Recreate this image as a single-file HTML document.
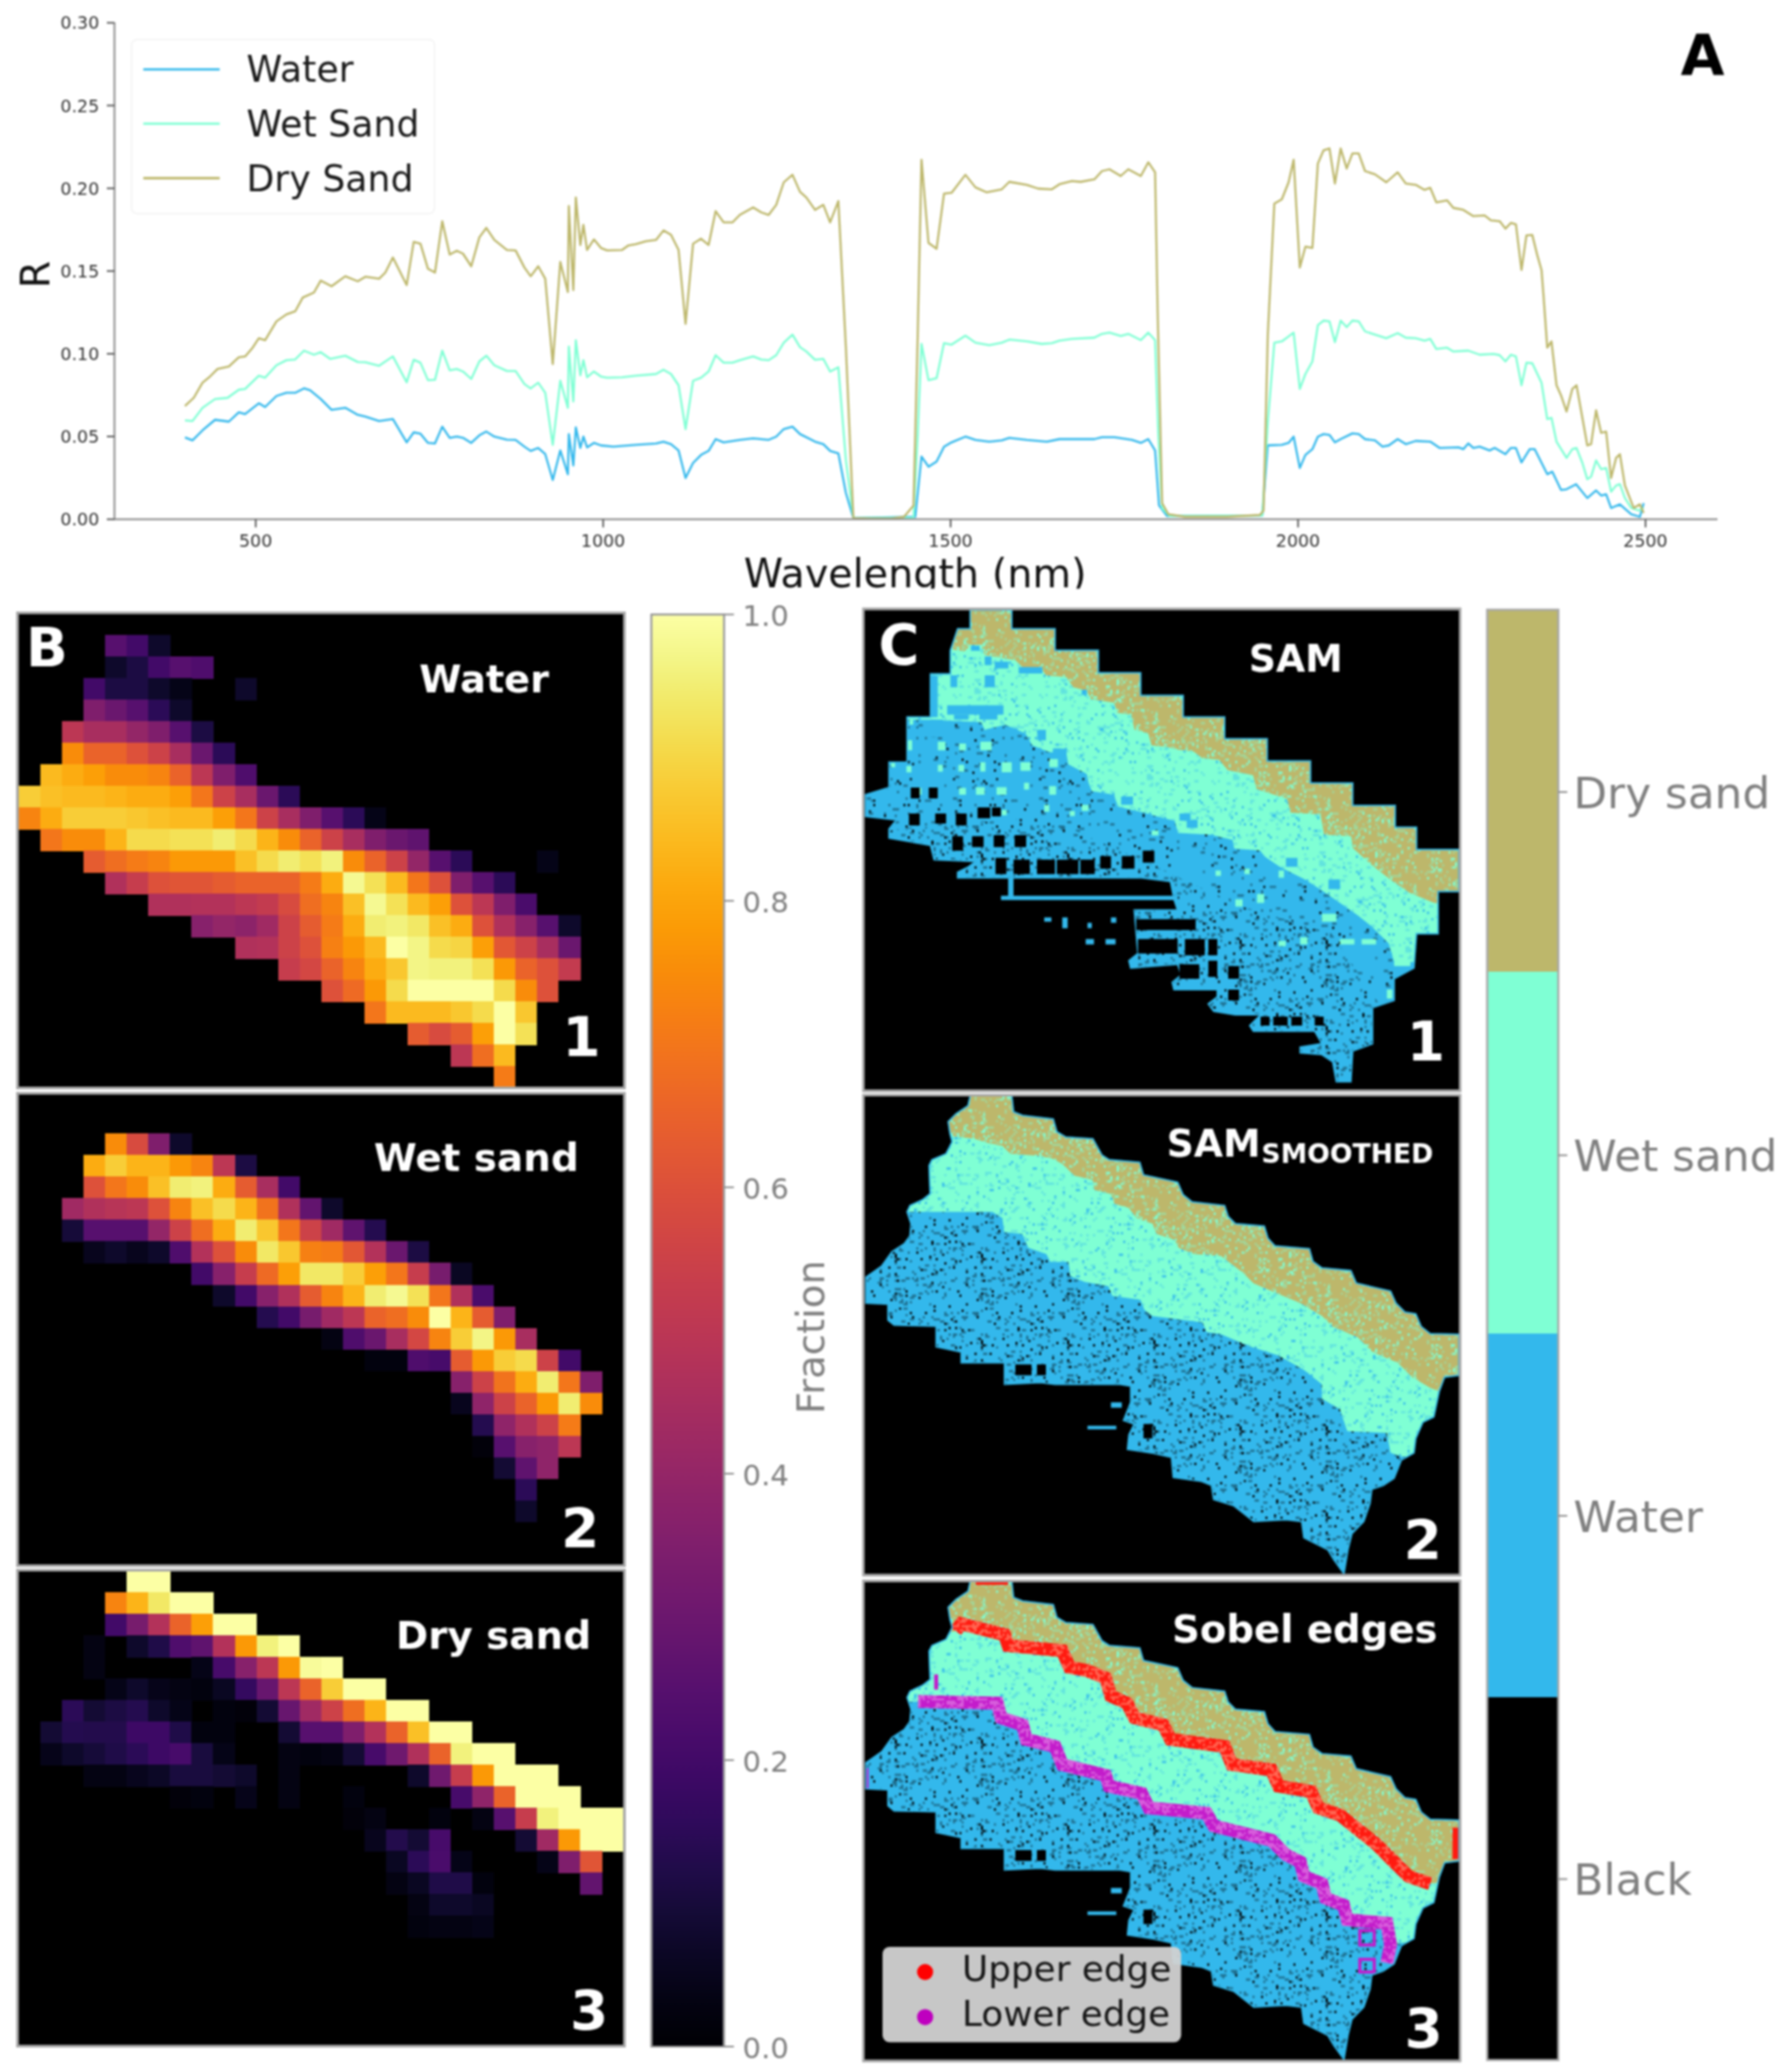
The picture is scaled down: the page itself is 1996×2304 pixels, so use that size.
<!DOCTYPE html>
<html><head><meta charset="utf-8"><title>Figure</title>
<style>html,body{margin:0;padding:0;background:#fff}svg{display:block;filter:blur(0.8px)}</style></head>
<body>
<svg width="1996" height="2304" viewBox="0 0 1996 2304" font-family='"DejaVu Sans","Liberation Sans",sans-serif'>
<defs>
<linearGradient id="inf" x1="0" y1="0" x2="0" y2="1"><stop offset="0.0000" stop-color="#fcffa4"/><stop offset="0.0312" stop-color="#f3f586"/><stop offset="0.0625" stop-color="#f2e865"/><stop offset="0.0938" stop-color="#f5d949"/><stop offset="0.1250" stop-color="#f9c932"/><stop offset="0.1562" stop-color="#fbba1f"/><stop offset="0.1875" stop-color="#fcaa0f"/><stop offset="0.2188" stop-color="#fb9b06"/><stop offset="0.2500" stop-color="#f98c0a"/><stop offset="0.2812" stop-color="#f67e14"/><stop offset="0.3125" stop-color="#f1711f"/><stop offset="0.3438" stop-color="#eb6429"/><stop offset="0.3750" stop-color="#e35933"/><stop offset="0.4062" stop-color="#da4e3c"/><stop offset="0.4375" stop-color="#d04545"/><stop offset="0.4688" stop-color="#c63d4d"/><stop offset="0.5000" stop-color="#bc3754"/><stop offset="0.5312" stop-color="#b0315b"/><stop offset="0.5625" stop-color="#a32c61"/><stop offset="0.5938" stop-color="#972766"/><stop offset="0.6250" stop-color="#8a226a"/><stop offset="0.6562" stop-color="#7d1e6d"/><stop offset="0.6875" stop-color="#71196e"/><stop offset="0.7188" stop-color="#64156e"/><stop offset="0.7500" stop-color="#57106e"/><stop offset="0.7812" stop-color="#4a0c6b"/><stop offset="0.8125" stop-color="#3d0965"/><stop offset="0.8438" stop-color="#2f0a5b"/><stop offset="0.8750" stop-color="#210c4a"/><stop offset="0.9062" stop-color="#150b37"/><stop offset="0.9375" stop-color="#0b0724"/><stop offset="0.9688" stop-color="#040312"/><stop offset="1.0000" stop-color="#000004"/></linearGradient>
<pattern id="pDry" width="96" height="96" patternUnits="userSpaceOnUse"><rect width="96" height="96" fill="#bdb76b"/><path d="M0.0 0.0h2.4v2.4h-2.4zM0.0 16.8h4.8v2.4h-4.8zM0.0 88.8h2.4v2.4h-2.4zM0.0 93.6h2.4v2.4h-2.4zM2.4 38.4h2.4v2.4h-2.4zM2.4 76.8h2.4v2.4h-2.4zM4.8 40.8h2.4v2.4h-2.4zM4.8 64.8h2.4v2.4h-2.4zM4.8 84.0h4.8v2.4h-4.8zM4.8 93.6h2.4v2.4h-2.4zM7.2 4.8h2.4v2.4h-2.4zM7.2 7.2h4.8v2.4h-4.8zM7.2 26.4h4.8v2.4h-4.8zM7.2 45.6h2.4v2.4h-2.4zM7.2 48.0h2.4v2.4h-2.4zM9.6 24.0h2.4v2.4h-2.4zM9.6 45.6h4.8v2.4h-4.8zM12.0 7.2h4.8v2.4h-4.8zM12.0 38.4h2.4v2.4h-2.4zM12.0 40.8h4.8v2.4h-4.8zM12.0 43.2h2.4v2.4h-2.4zM12.0 64.8h4.8v2.4h-4.8zM12.0 88.8h4.8v2.4h-4.8zM14.4 7.2h4.8v2.4h-4.8zM14.4 14.4h2.4v2.4h-2.4zM14.4 31.2h2.4v2.4h-2.4zM14.4 60.0h4.8v2.4h-4.8zM14.4 84.0h4.8v2.4h-4.8zM16.8 36.0h2.4v2.4h-2.4zM16.8 38.4h4.8v2.4h-4.8zM16.8 52.8h2.4v2.4h-2.4zM16.8 57.6h2.4v2.4h-2.4zM16.8 60.0h2.4v2.4h-2.4zM16.8 69.6h2.4v2.4h-2.4zM16.8 79.2h2.4v2.4h-2.4zM19.2 4.8h2.4v2.4h-2.4zM19.2 7.2h2.4v2.4h-2.4zM19.2 52.8h4.8v2.4h-4.8zM21.6 16.8h2.4v2.4h-2.4zM21.6 21.6h2.4v2.4h-2.4zM21.6 52.8h4.8v2.4h-4.8zM21.6 74.4h2.4v2.4h-2.4zM21.6 93.6h2.4v2.4h-2.4zM24.0 21.6h2.4v2.4h-2.4zM24.0 24.0h2.4v2.4h-2.4zM24.0 28.8h2.4v2.4h-2.4zM24.0 33.6h4.8v2.4h-4.8zM24.0 43.2h2.4v2.4h-2.4zM26.4 0.0h2.4v2.4h-2.4zM26.4 2.4h2.4v2.4h-2.4zM26.4 14.4h2.4v2.4h-2.4zM26.4 86.4h2.4v2.4h-2.4zM28.8 64.8h2.4v2.4h-2.4zM31.2 16.8h2.4v2.4h-2.4zM31.2 28.8h2.4v2.4h-2.4zM31.2 45.6h2.4v2.4h-2.4zM31.2 79.2h2.4v2.4h-2.4zM31.2 81.6h2.4v2.4h-2.4zM33.6 2.4h4.8v2.4h-4.8zM33.6 21.6h2.4v2.4h-2.4zM33.6 26.4h4.8v2.4h-4.8zM33.6 55.2h2.4v2.4h-2.4zM33.6 57.6h2.4v2.4h-2.4zM33.6 64.8h4.8v2.4h-4.8zM36.0 16.8h2.4v2.4h-2.4zM36.0 21.6h2.4v2.4h-2.4zM36.0 28.8h2.4v2.4h-2.4zM36.0 48.0h4.8v2.4h-4.8zM38.4 4.8h2.4v2.4h-2.4zM38.4 26.4h2.4v2.4h-2.4zM38.4 36.0h2.4v2.4h-2.4zM38.4 52.8h2.4v2.4h-2.4zM38.4 64.8h2.4v2.4h-2.4zM38.4 67.2h4.8v2.4h-4.8zM38.4 76.8h2.4v2.4h-2.4zM40.8 9.6h2.4v2.4h-2.4zM40.8 33.6h2.4v2.4h-2.4zM40.8 38.4h2.4v2.4h-2.4zM40.8 67.2h2.4v2.4h-2.4zM43.2 2.4h2.4v2.4h-2.4zM43.2 33.6h4.8v2.4h-4.8zM43.2 43.2h2.4v2.4h-2.4zM43.2 50.4h2.4v2.4h-2.4zM43.2 55.2h4.8v2.4h-4.8zM43.2 62.4h4.8v2.4h-4.8zM43.2 69.6h2.4v2.4h-2.4zM45.6 48.0h4.8v2.4h-4.8zM45.6 55.2h2.4v2.4h-2.4zM48.0 4.8h2.4v2.4h-2.4zM48.0 52.8h2.4v2.4h-2.4zM48.0 60.0h4.8v2.4h-4.8zM50.4 2.4h4.8v2.4h-4.8zM50.4 26.4h2.4v2.4h-2.4zM50.4 43.2h2.4v2.4h-2.4zM50.4 50.4h4.8v2.4h-4.8zM50.4 67.2h2.4v2.4h-2.4zM50.4 79.2h2.4v2.4h-2.4zM50.4 81.6h2.4v2.4h-2.4zM52.8 55.2h4.8v2.4h-4.8zM52.8 69.6h2.4v2.4h-2.4zM52.8 91.2h2.4v2.4h-2.4zM55.2 24.0h4.8v2.4h-4.8zM55.2 28.8h2.4v2.4h-2.4zM55.2 40.8h2.4v2.4h-2.4zM55.2 57.6h4.8v2.4h-4.8zM55.2 76.8h4.8v2.4h-4.8zM55.2 86.4h2.4v2.4h-2.4zM55.2 88.8h2.4v2.4h-2.4zM57.6 2.4h2.4v2.4h-2.4zM57.6 67.2h4.8v2.4h-4.8zM57.6 86.4h2.4v2.4h-2.4zM60.0 14.4h2.4v2.4h-2.4zM60.0 16.8h2.4v2.4h-2.4zM60.0 31.2h2.4v2.4h-2.4zM60.0 38.4h2.4v2.4h-2.4zM62.4 2.4h4.8v2.4h-4.8zM62.4 36.0h2.4v2.4h-2.4zM62.4 84.0h2.4v2.4h-2.4zM64.8 9.6h2.4v2.4h-2.4zM64.8 12.0h2.4v2.4h-2.4zM64.8 33.6h2.4v2.4h-2.4zM64.8 45.6h2.4v2.4h-2.4zM64.8 48.0h4.8v2.4h-4.8zM64.8 50.4h4.8v2.4h-4.8zM64.8 62.4h2.4v2.4h-2.4zM67.2 14.4h2.4v2.4h-2.4zM67.2 43.2h2.4v2.4h-2.4zM67.2 91.2h2.4v2.4h-2.4zM69.6 7.2h2.4v2.4h-2.4zM69.6 21.6h4.8v2.4h-4.8zM69.6 31.2h4.8v2.4h-4.8zM69.6 36.0h2.4v2.4h-2.4zM69.6 40.8h2.4v2.4h-2.4zM69.6 52.8h2.4v2.4h-2.4zM69.6 55.2h2.4v2.4h-2.4zM69.6 69.6h2.4v2.4h-2.4zM69.6 72.0h4.8v2.4h-4.8zM72.0 2.4h2.4v2.4h-2.4zM72.0 38.4h2.4v2.4h-2.4zM72.0 50.4h2.4v2.4h-2.4zM72.0 62.4h2.4v2.4h-2.4zM72.0 69.6h4.8v2.4h-4.8zM74.4 9.6h2.4v2.4h-2.4zM74.4 12.0h2.4v2.4h-2.4zM74.4 31.2h2.4v2.4h-2.4zM74.4 45.6h2.4v2.4h-2.4zM74.4 50.4h2.4v2.4h-2.4zM74.4 69.6h4.8v2.4h-4.8zM76.8 26.4h2.4v2.4h-2.4zM76.8 50.4h2.4v2.4h-2.4zM76.8 86.4h2.4v2.4h-2.4zM76.8 93.6h4.8v2.4h-4.8zM79.2 36.0h4.8v2.4h-4.8zM79.2 43.2h4.8v2.4h-4.8zM79.2 69.6h2.4v2.4h-2.4zM79.2 76.8h2.4v2.4h-2.4zM81.6 12.0h4.8v2.4h-4.8zM81.6 14.4h2.4v2.4h-2.4zM81.6 16.8h4.8v2.4h-4.8zM81.6 19.2h4.8v2.4h-4.8zM81.6 52.8h2.4v2.4h-2.4zM81.6 74.4h4.8v2.4h-4.8zM81.6 93.6h2.4v2.4h-2.4zM84.0 12.0h2.4v2.4h-2.4zM86.4 28.8h4.8v2.4h-4.8zM86.4 36.0h2.4v2.4h-2.4zM86.4 50.4h2.4v2.4h-2.4zM86.4 72.0h4.8v2.4h-4.8zM86.4 91.2h2.4v2.4h-2.4zM88.8 45.6h2.4v2.4h-2.4zM88.8 67.2h2.4v2.4h-2.4zM88.8 72.0h2.4v2.4h-2.4zM91.2 40.8h2.4v2.4h-2.4zM91.2 48.0h2.4v2.4h-2.4zM91.2 50.4h2.4v2.4h-2.4zM91.2 55.2h2.4v2.4h-2.4zM91.2 57.6h4.8v2.4h-4.8zM91.2 74.4h4.8v2.4h-4.8zM91.2 79.2h2.4v2.4h-2.4zM93.6 4.8h2.4v2.4h-2.4zM93.6 36.0h4.8v2.4h-4.8zM93.6 67.2h4.8v2.4h-4.8zM93.6 76.8h2.4v2.4h-2.4zM93.6 81.6h4.8v2.4h-4.8zM93.6 91.2h2.4v2.4h-2.4z" fill="#a1d79a"/><path d="M0.0 26.4h2.4v2.4h-2.4zM0.0 40.8h2.4v2.4h-2.4zM0.0 43.2h2.4v2.4h-2.4zM0.0 57.6h2.4v2.4h-2.4zM0.0 79.2h2.4v2.4h-2.4zM2.4 28.8h2.4v2.4h-2.4zM2.4 62.4h2.4v2.4h-2.4zM2.4 64.8h2.4v2.4h-2.4zM4.8 12.0h2.4v2.4h-2.4zM4.8 33.6h2.4v2.4h-2.4zM4.8 60.0h2.4v2.4h-2.4zM4.8 86.4h2.4v2.4h-2.4zM7.2 2.4h2.4v2.4h-2.4zM7.2 19.2h2.4v2.4h-2.4zM7.2 40.8h2.4v2.4h-2.4zM7.2 43.2h2.4v2.4h-2.4zM7.2 79.2h2.4v2.4h-2.4zM9.6 9.6h2.4v2.4h-2.4zM9.6 14.4h2.4v2.4h-2.4zM9.6 62.4h2.4v2.4h-2.4zM12.0 84.0h2.4v2.4h-2.4zM12.0 93.6h2.4v2.4h-2.4zM14.4 33.6h2.4v2.4h-2.4zM14.4 36.0h2.4v2.4h-2.4zM14.4 50.4h2.4v2.4h-2.4zM16.8 31.2h2.4v2.4h-2.4zM16.8 81.6h2.4v2.4h-2.4zM19.2 14.4h2.4v2.4h-2.4zM19.2 38.4h2.4v2.4h-2.4zM19.2 48.0h2.4v2.4h-2.4zM19.2 69.6h2.4v2.4h-2.4zM21.6 14.4h2.4v2.4h-2.4zM21.6 62.4h2.4v2.4h-2.4zM21.6 76.8h2.4v2.4h-2.4zM24.0 40.8h2.4v2.4h-2.4zM24.0 45.6h2.4v2.4h-2.4zM26.4 28.8h2.4v2.4h-2.4zM26.4 55.2h2.4v2.4h-2.4zM26.4 93.6h2.4v2.4h-2.4zM28.8 72.0h2.4v2.4h-2.4zM28.8 86.4h2.4v2.4h-2.4zM31.2 62.4h2.4v2.4h-2.4zM33.6 28.8h2.4v2.4h-2.4zM33.6 38.4h2.4v2.4h-2.4zM33.6 88.8h2.4v2.4h-2.4zM36.0 19.2h2.4v2.4h-2.4zM36.0 24.0h2.4v2.4h-2.4zM36.0 36.0h2.4v2.4h-2.4zM36.0 38.4h2.4v2.4h-2.4zM36.0 43.2h2.4v2.4h-2.4zM36.0 50.4h2.4v2.4h-2.4zM36.0 76.8h2.4v2.4h-2.4zM36.0 93.6h2.4v2.4h-2.4zM38.4 33.6h2.4v2.4h-2.4zM38.4 45.6h2.4v2.4h-2.4zM38.4 60.0h2.4v2.4h-2.4zM40.8 43.2h2.4v2.4h-2.4zM40.8 74.4h2.4v2.4h-2.4zM43.2 48.0h2.4v2.4h-2.4zM43.2 72.0h2.4v2.4h-2.4zM45.6 40.8h2.4v2.4h-2.4zM45.6 52.8h2.4v2.4h-2.4zM48.0 57.6h2.4v2.4h-2.4zM50.4 9.6h2.4v2.4h-2.4zM52.8 21.6h2.4v2.4h-2.4zM55.2 2.4h2.4v2.4h-2.4zM55.2 48.0h2.4v2.4h-2.4zM55.2 50.4h2.4v2.4h-2.4zM55.2 72.0h2.4v2.4h-2.4zM55.2 84.0h2.4v2.4h-2.4zM55.2 93.6h2.4v2.4h-2.4zM57.6 0.0h2.4v2.4h-2.4zM57.6 62.4h2.4v2.4h-2.4zM60.0 7.2h2.4v2.4h-2.4zM60.0 50.4h2.4v2.4h-2.4zM60.0 84.0h2.4v2.4h-2.4zM60.0 88.8h2.4v2.4h-2.4zM60.0 93.6h2.4v2.4h-2.4zM62.4 0.0h2.4v2.4h-2.4zM62.4 55.2h2.4v2.4h-2.4zM62.4 76.8h2.4v2.4h-2.4zM64.8 0.0h2.4v2.4h-2.4zM64.8 69.6h2.4v2.4h-2.4zM64.8 86.4h2.4v2.4h-2.4zM67.2 60.0h2.4v2.4h-2.4zM69.6 57.6h2.4v2.4h-2.4zM72.0 24.0h2.4v2.4h-2.4zM72.0 67.2h2.4v2.4h-2.4zM74.4 16.8h2.4v2.4h-2.4zM74.4 33.6h2.4v2.4h-2.4zM74.4 60.0h2.4v2.4h-2.4zM74.4 76.8h2.4v2.4h-2.4zM76.8 52.8h2.4v2.4h-2.4zM76.8 84.0h2.4v2.4h-2.4zM79.2 14.4h2.4v2.4h-2.4zM79.2 16.8h2.4v2.4h-2.4zM79.2 84.0h2.4v2.4h-2.4zM79.2 93.6h2.4v2.4h-2.4zM81.6 36.0h2.4v2.4h-2.4zM81.6 40.8h2.4v2.4h-2.4zM81.6 48.0h2.4v2.4h-2.4zM81.6 55.2h2.4v2.4h-2.4zM81.6 88.8h2.4v2.4h-2.4zM81.6 91.2h2.4v2.4h-2.4zM84.0 67.2h2.4v2.4h-2.4zM86.4 4.8h2.4v2.4h-2.4zM86.4 14.4h2.4v2.4h-2.4zM88.8 2.4h2.4v2.4h-2.4zM88.8 14.4h2.4v2.4h-2.4zM88.8 40.8h2.4v2.4h-2.4zM88.8 76.8h2.4v2.4h-2.4zM88.8 79.2h2.4v2.4h-2.4zM88.8 81.6h2.4v2.4h-2.4zM88.8 88.8h2.4v2.4h-2.4zM88.8 91.2h2.4v2.4h-2.4zM91.2 2.4h2.4v2.4h-2.4zM91.2 4.8h2.4v2.4h-2.4zM91.2 38.4h2.4v2.4h-2.4zM93.6 0.0h2.4v2.4h-2.4zM93.6 64.8h2.4v2.4h-2.4z" fill="#7fffd4"/></pattern>
<pattern id="pWet" width="96" height="96" patternUnits="userSpaceOnUse"><rect width="96" height="96" fill="#7fffd4"/><path d="M0.0 4.8h4.8v2.4h-4.8zM0.0 45.6h4.8v2.4h-4.8zM2.4 93.6h2.4v2.4h-2.4zM4.8 9.6h2.4v2.4h-2.4zM4.8 19.2h2.4v2.4h-2.4zM4.8 36.0h2.4v2.4h-2.4zM4.8 43.2h2.4v2.4h-2.4zM4.8 67.2h2.4v2.4h-2.4zM4.8 72.0h2.4v2.4h-2.4zM4.8 79.2h2.4v2.4h-2.4zM4.8 81.6h2.4v2.4h-2.4zM7.2 12.0h2.4v2.4h-2.4zM7.2 45.6h4.8v2.4h-4.8zM7.2 50.4h2.4v2.4h-2.4zM7.2 88.8h2.4v2.4h-2.4zM7.2 91.2h2.4v2.4h-2.4zM9.6 0.0h4.8v2.4h-4.8zM9.6 33.6h2.4v2.4h-2.4zM9.6 40.8h2.4v2.4h-2.4zM9.6 64.8h2.4v2.4h-2.4zM9.6 86.4h4.8v2.4h-4.8zM9.6 93.6h2.4v2.4h-2.4zM12.0 19.2h2.4v2.4h-2.4zM12.0 86.4h2.4v2.4h-2.4zM14.4 0.0h4.8v2.4h-4.8zM14.4 26.4h2.4v2.4h-2.4zM14.4 33.6h2.4v2.4h-2.4zM16.8 50.4h2.4v2.4h-2.4zM16.8 86.4h4.8v2.4h-4.8zM19.2 16.8h2.4v2.4h-2.4zM19.2 79.2h2.4v2.4h-2.4zM21.6 0.0h2.4v2.4h-2.4zM21.6 28.8h2.4v2.4h-2.4zM21.6 38.4h2.4v2.4h-2.4zM21.6 62.4h4.8v2.4h-4.8zM24.0 91.2h4.8v2.4h-4.8zM26.4 24.0h4.8v2.4h-4.8zM26.4 86.4h4.8v2.4h-4.8zM28.8 4.8h2.4v2.4h-2.4zM28.8 12.0h2.4v2.4h-2.4zM28.8 21.6h2.4v2.4h-2.4zM28.8 26.4h2.4v2.4h-2.4zM28.8 40.8h4.8v2.4h-4.8zM28.8 62.4h4.8v2.4h-4.8zM28.8 67.2h4.8v2.4h-4.8zM28.8 88.8h2.4v2.4h-2.4zM31.2 38.4h2.4v2.4h-2.4zM31.2 60.0h2.4v2.4h-2.4zM31.2 69.6h4.8v2.4h-4.8zM31.2 72.0h2.4v2.4h-2.4zM36.0 55.2h2.4v2.4h-2.4zM38.4 2.4h2.4v2.4h-2.4zM38.4 33.6h2.4v2.4h-2.4zM38.4 38.4h2.4v2.4h-2.4zM38.4 45.6h2.4v2.4h-2.4zM38.4 84.0h2.4v2.4h-2.4zM38.4 86.4h2.4v2.4h-2.4zM40.8 16.8h2.4v2.4h-2.4zM40.8 55.2h2.4v2.4h-2.4zM40.8 69.6h2.4v2.4h-2.4zM40.8 84.0h4.8v2.4h-4.8zM43.2 0.0h2.4v2.4h-2.4zM43.2 2.4h4.8v2.4h-4.8zM43.2 19.2h2.4v2.4h-2.4zM45.6 64.8h2.4v2.4h-2.4zM48.0 38.4h2.4v2.4h-2.4zM48.0 40.8h2.4v2.4h-2.4zM48.0 57.6h2.4v2.4h-2.4zM48.0 67.2h4.8v2.4h-4.8zM48.0 69.6h2.4v2.4h-2.4zM48.0 74.4h2.4v2.4h-2.4zM50.4 88.8h2.4v2.4h-2.4zM52.8 33.6h4.8v2.4h-4.8zM52.8 38.4h2.4v2.4h-2.4zM52.8 67.2h2.4v2.4h-2.4zM55.2 0.0h4.8v2.4h-4.8zM55.2 57.6h2.4v2.4h-2.4zM55.2 62.4h2.4v2.4h-2.4zM55.2 84.0h2.4v2.4h-2.4zM57.6 0.0h4.8v2.4h-4.8zM57.6 28.8h2.4v2.4h-2.4zM57.6 48.0h2.4v2.4h-2.4zM57.6 76.8h4.8v2.4h-4.8zM60.0 16.8h2.4v2.4h-2.4zM60.0 91.2h4.8v2.4h-4.8zM62.4 4.8h2.4v2.4h-2.4zM62.4 40.8h2.4v2.4h-2.4zM62.4 57.6h2.4v2.4h-2.4zM64.8 7.2h2.4v2.4h-2.4zM64.8 26.4h2.4v2.4h-2.4zM64.8 38.4h2.4v2.4h-2.4zM67.2 2.4h4.8v2.4h-4.8zM67.2 16.8h4.8v2.4h-4.8zM67.2 31.2h2.4v2.4h-2.4zM67.2 52.8h4.8v2.4h-4.8zM69.6 2.4h2.4v2.4h-2.4zM69.6 12.0h2.4v2.4h-2.4zM69.6 28.8h2.4v2.4h-2.4zM69.6 31.2h2.4v2.4h-2.4zM69.6 52.8h2.4v2.4h-2.4zM72.0 9.6h4.8v2.4h-4.8zM72.0 26.4h4.8v2.4h-4.8zM72.0 28.8h2.4v2.4h-2.4zM72.0 52.8h2.4v2.4h-2.4zM72.0 74.4h2.4v2.4h-2.4zM72.0 76.8h4.8v2.4h-4.8zM72.0 79.2h2.4v2.4h-2.4zM74.4 4.8h2.4v2.4h-2.4zM74.4 81.6h2.4v2.4h-2.4zM74.4 88.8h4.8v2.4h-4.8zM76.8 38.4h4.8v2.4h-4.8zM76.8 57.6h2.4v2.4h-2.4zM76.8 64.8h4.8v2.4h-4.8zM76.8 93.6h2.4v2.4h-2.4zM79.2 9.6h2.4v2.4h-2.4zM79.2 52.8h4.8v2.4h-4.8zM79.2 62.4h2.4v2.4h-2.4zM79.2 72.0h2.4v2.4h-2.4zM81.6 60.0h2.4v2.4h-2.4zM81.6 69.6h2.4v2.4h-2.4zM84.0 16.8h2.4v2.4h-2.4zM84.0 24.0h2.4v2.4h-2.4zM86.4 24.0h2.4v2.4h-2.4zM86.4 26.4h2.4v2.4h-2.4zM86.4 43.2h2.4v2.4h-2.4zM88.8 2.4h4.8v2.4h-4.8zM88.8 21.6h2.4v2.4h-2.4zM88.8 86.4h2.4v2.4h-2.4zM93.6 0.0h4.8v2.4h-4.8zM93.6 4.8h2.4v2.4h-2.4z" fill="#61e3de"/><path d="M0.0 64.8h2.4v2.4h-2.4zM4.8 45.6h2.4v2.4h-2.4zM4.8 50.4h2.4v2.4h-2.4zM7.2 38.4h2.4v2.4h-2.4zM7.2 86.4h2.4v2.4h-2.4zM9.6 60.0h2.4v2.4h-2.4zM9.6 72.0h2.4v2.4h-2.4zM12.0 28.8h2.4v2.4h-2.4zM14.4 62.4h2.4v2.4h-2.4zM16.8 21.6h2.4v2.4h-2.4zM16.8 36.0h2.4v2.4h-2.4zM19.2 14.4h2.4v2.4h-2.4zM19.2 48.0h2.4v2.4h-2.4zM24.0 52.8h2.4v2.4h-2.4zM28.8 9.6h2.4v2.4h-2.4zM36.0 14.4h2.4v2.4h-2.4zM36.0 40.8h2.4v2.4h-2.4zM38.4 62.4h2.4v2.4h-2.4zM40.8 36.0h2.4v2.4h-2.4zM40.8 43.2h2.4v2.4h-2.4zM43.2 7.2h2.4v2.4h-2.4zM43.2 67.2h2.4v2.4h-2.4zM45.6 7.2h2.4v2.4h-2.4zM50.4 86.4h2.4v2.4h-2.4zM52.8 4.8h2.4v2.4h-2.4zM52.8 48.0h2.4v2.4h-2.4zM52.8 93.6h2.4v2.4h-2.4zM55.2 28.8h2.4v2.4h-2.4zM55.2 31.2h2.4v2.4h-2.4zM60.0 21.6h2.4v2.4h-2.4zM60.0 33.6h2.4v2.4h-2.4zM62.4 93.6h2.4v2.4h-2.4zM64.8 74.4h2.4v2.4h-2.4zM67.2 21.6h2.4v2.4h-2.4zM67.2 72.0h2.4v2.4h-2.4zM72.0 4.8h2.4v2.4h-2.4zM76.8 67.2h2.4v2.4h-2.4zM81.6 16.8h2.4v2.4h-2.4zM81.6 48.0h2.4v2.4h-2.4zM84.0 38.4h2.4v2.4h-2.4zM84.0 55.2h2.4v2.4h-2.4zM84.0 62.4h2.4v2.4h-2.4zM86.4 0.0h2.4v2.4h-2.4zM86.4 2.4h2.4v2.4h-2.4zM86.4 21.6h2.4v2.4h-2.4zM88.8 55.2h2.4v2.4h-2.4zM91.2 28.8h2.4v2.4h-2.4zM91.2 45.6h2.4v2.4h-2.4zM91.2 79.2h2.4v2.4h-2.4zM93.6 55.2h2.4v2.4h-2.4zM93.6 79.2h2.4v2.4h-2.4z" fill="#33b8ec"/></pattern>
<pattern id="pWetB" width="96" height="96" patternUnits="userSpaceOnUse"><rect width="96" height="96" fill="#7fffd4"/><path d="M2.4 12.0h2.4v2.4h-2.4zM2.4 38.4h2.4v2.4h-2.4zM2.4 60.0h4.8v2.4h-4.8zM2.4 93.6h2.4v2.4h-2.4zM4.8 0.0h2.4v2.4h-2.4zM4.8 21.6h4.8v2.4h-4.8zM4.8 31.2h2.4v2.4h-2.4zM4.8 50.4h2.4v2.4h-2.4zM4.8 52.8h2.4v2.4h-2.4zM7.2 26.4h4.8v2.4h-4.8zM9.6 79.2h2.4v2.4h-2.4zM9.6 84.0h4.8v2.4h-4.8zM9.6 93.6h2.4v2.4h-2.4zM12.0 28.8h2.4v2.4h-2.4zM12.0 31.2h2.4v2.4h-2.4zM16.8 16.8h4.8v2.4h-4.8zM16.8 62.4h2.4v2.4h-2.4zM19.2 0.0h4.8v2.4h-4.8zM19.2 21.6h2.4v2.4h-2.4zM19.2 52.8h4.8v2.4h-4.8zM19.2 57.6h4.8v2.4h-4.8zM19.2 84.0h2.4v2.4h-2.4zM21.6 33.6h2.4v2.4h-2.4zM21.6 36.0h4.8v2.4h-4.8zM21.6 57.6h4.8v2.4h-4.8zM24.0 26.4h4.8v2.4h-4.8zM24.0 31.2h2.4v2.4h-2.4zM24.0 52.8h4.8v2.4h-4.8zM24.0 81.6h2.4v2.4h-2.4zM26.4 24.0h2.4v2.4h-2.4zM26.4 62.4h2.4v2.4h-2.4zM26.4 67.2h2.4v2.4h-2.4zM26.4 76.8h4.8v2.4h-4.8zM26.4 86.4h4.8v2.4h-4.8zM26.4 88.8h2.4v2.4h-2.4zM26.4 91.2h4.8v2.4h-4.8zM28.8 2.4h4.8v2.4h-4.8zM28.8 16.8h2.4v2.4h-2.4zM28.8 67.2h2.4v2.4h-2.4zM28.8 76.8h4.8v2.4h-4.8zM28.8 79.2h2.4v2.4h-2.4zM28.8 86.4h2.4v2.4h-2.4zM28.8 88.8h4.8v2.4h-4.8zM31.2 0.0h2.4v2.4h-2.4zM31.2 43.2h4.8v2.4h-4.8zM31.2 52.8h2.4v2.4h-2.4zM31.2 60.0h4.8v2.4h-4.8zM31.2 91.2h2.4v2.4h-2.4zM33.6 43.2h2.4v2.4h-2.4zM33.6 45.6h2.4v2.4h-2.4zM36.0 0.0h4.8v2.4h-4.8zM36.0 2.4h2.4v2.4h-2.4zM36.0 84.0h4.8v2.4h-4.8zM38.4 9.6h2.4v2.4h-2.4zM40.8 4.8h2.4v2.4h-2.4zM40.8 36.0h4.8v2.4h-4.8zM40.8 57.6h2.4v2.4h-2.4zM40.8 91.2h4.8v2.4h-4.8zM43.2 28.8h4.8v2.4h-4.8zM43.2 40.8h2.4v2.4h-2.4zM43.2 64.8h2.4v2.4h-2.4zM45.6 12.0h2.4v2.4h-2.4zM45.6 19.2h4.8v2.4h-4.8zM45.6 21.6h2.4v2.4h-2.4zM45.6 33.6h2.4v2.4h-2.4zM45.6 57.6h4.8v2.4h-4.8zM45.6 67.2h4.8v2.4h-4.8zM45.6 76.8h2.4v2.4h-2.4zM45.6 93.6h4.8v2.4h-4.8zM48.0 55.2h2.4v2.4h-2.4zM48.0 84.0h4.8v2.4h-4.8zM50.4 12.0h4.8v2.4h-4.8zM50.4 62.4h2.4v2.4h-2.4zM50.4 64.8h2.4v2.4h-2.4zM52.8 7.2h2.4v2.4h-2.4zM52.8 40.8h4.8v2.4h-4.8zM52.8 88.8h2.4v2.4h-2.4zM55.2 0.0h2.4v2.4h-2.4zM55.2 7.2h2.4v2.4h-2.4zM55.2 26.4h2.4v2.4h-2.4zM55.2 28.8h4.8v2.4h-4.8zM55.2 40.8h2.4v2.4h-2.4zM55.2 79.2h2.4v2.4h-2.4zM55.2 81.6h2.4v2.4h-2.4zM57.6 72.0h2.4v2.4h-2.4zM57.6 88.8h4.8v2.4h-4.8zM60.0 2.4h2.4v2.4h-2.4zM60.0 52.8h2.4v2.4h-2.4zM60.0 93.6h2.4v2.4h-2.4zM62.4 45.6h2.4v2.4h-2.4zM62.4 67.2h2.4v2.4h-2.4zM64.8 67.2h2.4v2.4h-2.4zM67.2 33.6h4.8v2.4h-4.8zM67.2 40.8h4.8v2.4h-4.8zM67.2 91.2h2.4v2.4h-2.4zM69.6 2.4h4.8v2.4h-4.8zM72.0 0.0h2.4v2.4h-2.4zM72.0 33.6h4.8v2.4h-4.8zM72.0 38.4h2.4v2.4h-2.4zM72.0 74.4h2.4v2.4h-2.4zM72.0 84.0h2.4v2.4h-2.4zM74.4 9.6h2.4v2.4h-2.4zM74.4 16.8h2.4v2.4h-2.4zM74.4 31.2h2.4v2.4h-2.4zM74.4 38.4h2.4v2.4h-2.4zM74.4 45.6h2.4v2.4h-2.4zM74.4 50.4h2.4v2.4h-2.4zM74.4 60.0h2.4v2.4h-2.4zM74.4 72.0h4.8v2.4h-4.8zM76.8 33.6h4.8v2.4h-4.8zM76.8 40.8h4.8v2.4h-4.8zM76.8 50.4h2.4v2.4h-2.4zM79.2 43.2h2.4v2.4h-2.4zM79.2 74.4h2.4v2.4h-2.4zM79.2 81.6h4.8v2.4h-4.8zM79.2 93.6h4.8v2.4h-4.8zM81.6 9.6h4.8v2.4h-4.8zM81.6 31.2h4.8v2.4h-4.8zM81.6 64.8h4.8v2.4h-4.8zM81.6 72.0h4.8v2.4h-4.8zM84.0 62.4h4.8v2.4h-4.8zM84.0 69.6h2.4v2.4h-2.4zM86.4 28.8h4.8v2.4h-4.8zM86.4 38.4h2.4v2.4h-2.4zM86.4 84.0h2.4v2.4h-2.4zM88.8 24.0h2.4v2.4h-2.4zM88.8 57.6h2.4v2.4h-2.4zM88.8 86.4h2.4v2.4h-2.4zM91.2 28.8h2.4v2.4h-2.4zM91.2 36.0h4.8v2.4h-4.8zM93.6 26.4h2.4v2.4h-2.4zM93.6 67.2h2.4v2.4h-2.4z" fill="#61e3de"/><path d="M0.0 14.4h2.4v2.4h-2.4zM0.0 38.4h2.4v2.4h-2.4zM0.0 62.4h2.4v2.4h-2.4zM2.4 16.8h2.4v2.4h-2.4zM2.4 40.8h2.4v2.4h-2.4zM2.4 48.0h2.4v2.4h-2.4zM2.4 57.6h2.4v2.4h-2.4zM7.2 72.0h2.4v2.4h-2.4zM9.6 62.4h2.4v2.4h-2.4zM12.0 12.0h2.4v2.4h-2.4zM12.0 72.0h2.4v2.4h-2.4zM14.4 50.4h2.4v2.4h-2.4zM16.8 28.8h2.4v2.4h-2.4zM19.2 9.6h2.4v2.4h-2.4zM21.6 52.8h2.4v2.4h-2.4zM24.0 38.4h2.4v2.4h-2.4zM26.4 19.2h2.4v2.4h-2.4zM26.4 60.0h2.4v2.4h-2.4zM28.8 33.6h2.4v2.4h-2.4zM31.2 57.6h2.4v2.4h-2.4zM31.2 81.6h2.4v2.4h-2.4zM36.0 26.4h2.4v2.4h-2.4zM36.0 40.8h2.4v2.4h-2.4zM38.4 45.6h2.4v2.4h-2.4zM45.6 38.4h2.4v2.4h-2.4zM45.6 45.6h2.4v2.4h-2.4zM48.0 64.8h2.4v2.4h-2.4zM50.4 48.0h2.4v2.4h-2.4zM50.4 69.6h2.4v2.4h-2.4zM52.8 93.6h2.4v2.4h-2.4zM55.2 55.2h2.4v2.4h-2.4zM60.0 24.0h2.4v2.4h-2.4zM64.8 19.2h2.4v2.4h-2.4zM64.8 57.6h2.4v2.4h-2.4zM67.2 2.4h2.4v2.4h-2.4zM67.2 60.0h2.4v2.4h-2.4zM67.2 81.6h2.4v2.4h-2.4zM69.6 4.8h2.4v2.4h-2.4zM69.6 36.0h2.4v2.4h-2.4zM72.0 9.6h2.4v2.4h-2.4zM72.0 19.2h2.4v2.4h-2.4zM72.0 36.0h2.4v2.4h-2.4zM81.6 38.4h2.4v2.4h-2.4zM84.0 12.0h2.4v2.4h-2.4zM84.0 19.2h2.4v2.4h-2.4zM86.4 21.6h2.4v2.4h-2.4zM86.4 45.6h2.4v2.4h-2.4zM91.2 67.2h2.4v2.4h-2.4zM93.6 31.2h2.4v2.4h-2.4zM93.6 45.6h2.4v2.4h-2.4z" fill="#33b8ec"/></pattern>
<pattern id="pWat" width="96" height="96" patternUnits="userSpaceOnUse"><rect width="96" height="96" fill="#33b8ec"/><path d="M0.0 12.0h4.8v2.4h-4.8zM0.0 48.0h2.4v2.4h-2.4zM0.0 84.0h4.8v2.4h-4.8zM2.4 52.8h2.4v2.4h-2.4zM2.4 57.6h2.4v2.4h-2.4zM2.4 72.0h2.4v2.4h-2.4zM2.4 74.4h2.4v2.4h-2.4zM2.4 91.2h2.4v2.4h-2.4zM4.8 9.6h2.4v2.4h-2.4zM4.8 72.0h2.4v2.4h-2.4zM4.8 88.8h2.4v2.4h-2.4zM7.2 48.0h2.4v2.4h-2.4zM9.6 64.8h2.4v2.4h-2.4zM9.6 72.0h2.4v2.4h-2.4zM12.0 52.8h4.8v2.4h-4.8zM12.0 69.6h4.8v2.4h-4.8zM12.0 74.4h2.4v2.4h-2.4zM12.0 79.2h2.4v2.4h-2.4zM14.4 14.4h4.8v2.4h-4.8zM14.4 55.2h2.4v2.4h-2.4zM16.8 0.0h2.4v2.4h-2.4zM16.8 9.6h4.8v2.4h-4.8zM16.8 12.0h2.4v2.4h-2.4zM16.8 48.0h2.4v2.4h-2.4zM16.8 52.8h2.4v2.4h-2.4zM16.8 84.0h2.4v2.4h-2.4zM19.2 19.2h2.4v2.4h-2.4zM21.6 67.2h4.8v2.4h-4.8zM24.0 7.2h4.8v2.4h-4.8zM24.0 12.0h2.4v2.4h-2.4zM24.0 16.8h2.4v2.4h-2.4zM24.0 48.0h2.4v2.4h-2.4zM26.4 4.8h2.4v2.4h-2.4zM26.4 24.0h2.4v2.4h-2.4zM26.4 48.0h4.8v2.4h-4.8zM26.4 50.4h4.8v2.4h-4.8zM28.8 76.8h2.4v2.4h-2.4zM28.8 81.6h2.4v2.4h-2.4zM31.2 28.8h4.8v2.4h-4.8zM31.2 31.2h4.8v2.4h-4.8zM33.6 7.2h4.8v2.4h-4.8zM33.6 12.0h4.8v2.4h-4.8zM33.6 21.6h2.4v2.4h-2.4zM33.6 33.6h2.4v2.4h-2.4zM33.6 45.6h2.4v2.4h-2.4zM33.6 72.0h2.4v2.4h-2.4zM33.6 84.0h4.8v2.4h-4.8zM33.6 88.8h2.4v2.4h-2.4zM36.0 21.6h4.8v2.4h-4.8zM36.0 26.4h2.4v2.4h-2.4zM36.0 93.6h4.8v2.4h-4.8zM38.4 21.6h2.4v2.4h-2.4zM38.4 26.4h2.4v2.4h-2.4zM38.4 28.8h4.8v2.4h-4.8zM38.4 36.0h4.8v2.4h-4.8zM38.4 72.0h2.4v2.4h-2.4zM38.4 74.4h4.8v2.4h-4.8zM38.4 84.0h2.4v2.4h-2.4zM40.8 12.0h2.4v2.4h-2.4zM40.8 28.8h2.4v2.4h-2.4zM40.8 33.6h2.4v2.4h-2.4zM40.8 57.6h4.8v2.4h-4.8zM43.2 12.0h2.4v2.4h-2.4zM43.2 21.6h2.4v2.4h-2.4zM43.2 38.4h4.8v2.4h-4.8zM43.2 43.2h4.8v2.4h-4.8zM45.6 9.6h4.8v2.4h-4.8zM45.6 36.0h2.4v2.4h-2.4zM45.6 38.4h2.4v2.4h-2.4zM45.6 50.4h2.4v2.4h-2.4zM48.0 76.8h2.4v2.4h-2.4zM50.4 31.2h4.8v2.4h-4.8zM50.4 36.0h2.4v2.4h-2.4zM50.4 55.2h4.8v2.4h-4.8zM50.4 64.8h4.8v2.4h-4.8zM50.4 86.4h2.4v2.4h-2.4zM52.8 2.4h2.4v2.4h-2.4zM52.8 9.6h2.4v2.4h-2.4zM52.8 28.8h4.8v2.4h-4.8zM55.2 4.8h2.4v2.4h-2.4zM55.2 12.0h4.8v2.4h-4.8zM55.2 28.8h2.4v2.4h-2.4zM57.6 9.6h2.4v2.4h-2.4zM57.6 16.8h2.4v2.4h-2.4zM57.6 72.0h2.4v2.4h-2.4zM60.0 26.4h4.8v2.4h-4.8zM60.0 55.2h2.4v2.4h-2.4zM60.0 60.0h2.4v2.4h-2.4zM60.0 67.2h4.8v2.4h-4.8zM60.0 93.6h2.4v2.4h-2.4zM62.4 9.6h4.8v2.4h-4.8zM62.4 57.6h2.4v2.4h-2.4zM62.4 74.4h2.4v2.4h-2.4zM64.8 0.0h2.4v2.4h-2.4zM64.8 16.8h4.8v2.4h-4.8zM64.8 52.8h2.4v2.4h-2.4zM67.2 0.0h2.4v2.4h-2.4zM67.2 24.0h2.4v2.4h-2.4zM67.2 72.0h2.4v2.4h-2.4zM67.2 91.2h4.8v2.4h-4.8zM69.6 7.2h2.4v2.4h-2.4zM69.6 19.2h4.8v2.4h-4.8zM69.6 26.4h2.4v2.4h-2.4zM69.6 60.0h2.4v2.4h-2.4zM72.0 16.8h4.8v2.4h-4.8zM72.0 38.4h2.4v2.4h-2.4zM72.0 84.0h2.4v2.4h-2.4zM74.4 24.0h2.4v2.4h-2.4zM74.4 52.8h2.4v2.4h-2.4zM76.8 0.0h2.4v2.4h-2.4zM76.8 4.8h2.4v2.4h-2.4zM76.8 55.2h2.4v2.4h-2.4zM76.8 72.0h2.4v2.4h-2.4zM76.8 74.4h2.4v2.4h-2.4zM76.8 79.2h2.4v2.4h-2.4zM76.8 91.2h2.4v2.4h-2.4zM79.2 4.8h2.4v2.4h-2.4zM79.2 55.2h4.8v2.4h-4.8zM79.2 67.2h4.8v2.4h-4.8zM81.6 16.8h2.4v2.4h-2.4zM84.0 14.4h2.4v2.4h-2.4zM84.0 57.6h4.8v2.4h-4.8zM84.0 74.4h2.4v2.4h-2.4zM84.0 76.8h2.4v2.4h-2.4zM86.4 0.0h2.4v2.4h-2.4zM86.4 31.2h2.4v2.4h-2.4zM88.8 4.8h2.4v2.4h-2.4zM88.8 14.4h2.4v2.4h-2.4zM88.8 26.4h2.4v2.4h-2.4zM88.8 28.8h2.4v2.4h-2.4zM88.8 48.0h2.4v2.4h-2.4zM88.8 50.4h4.8v2.4h-4.8zM91.2 60.0h2.4v2.4h-2.4zM91.2 76.8h2.4v2.4h-2.4zM93.6 21.6h2.4v2.4h-2.4zM93.6 72.0h2.4v2.4h-2.4zM93.6 93.6h2.4v2.4h-2.4z" fill="#1f6e8e"/><path d="M0.0 55.2h2.4v2.4h-2.4zM2.4 93.6h2.4v2.4h-2.4zM4.8 57.6h2.4v2.4h-2.4zM4.8 64.8h2.4v2.4h-2.4zM4.8 86.4h2.4v2.4h-2.4zM7.2 24.0h2.4v2.4h-2.4zM9.6 28.8h2.4v2.4h-2.4zM9.6 86.4h2.4v2.4h-2.4zM12.0 45.6h2.4v2.4h-2.4zM12.0 67.2h2.4v2.4h-2.4zM16.8 2.4h2.4v2.4h-2.4zM16.8 16.8h2.4v2.4h-2.4zM16.8 38.4h2.4v2.4h-2.4zM19.2 67.2h2.4v2.4h-2.4zM21.6 81.6h2.4v2.4h-2.4zM26.4 93.6h2.4v2.4h-2.4zM28.8 33.6h2.4v2.4h-2.4zM28.8 52.8h2.4v2.4h-2.4zM31.2 76.8h2.4v2.4h-2.4zM33.6 4.8h2.4v2.4h-2.4zM33.6 26.4h2.4v2.4h-2.4zM33.6 79.2h2.4v2.4h-2.4zM33.6 81.6h2.4v2.4h-2.4zM33.6 86.4h2.4v2.4h-2.4zM36.0 12.0h2.4v2.4h-2.4zM36.0 84.0h2.4v2.4h-2.4zM38.4 43.2h2.4v2.4h-2.4zM43.2 93.6h2.4v2.4h-2.4zM45.6 24.0h2.4v2.4h-2.4zM45.6 28.8h2.4v2.4h-2.4zM45.6 84.0h2.4v2.4h-2.4zM48.0 60.0h2.4v2.4h-2.4zM50.4 48.0h2.4v2.4h-2.4zM52.8 52.8h2.4v2.4h-2.4zM57.6 76.8h2.4v2.4h-2.4zM60.0 31.2h2.4v2.4h-2.4zM62.4 0.0h2.4v2.4h-2.4zM62.4 84.0h2.4v2.4h-2.4zM67.2 48.0h2.4v2.4h-2.4zM72.0 81.6h2.4v2.4h-2.4zM74.4 4.8h2.4v2.4h-2.4zM74.4 14.4h2.4v2.4h-2.4zM74.4 64.8h2.4v2.4h-2.4zM74.4 67.2h2.4v2.4h-2.4zM76.8 40.8h2.4v2.4h-2.4zM76.8 45.6h2.4v2.4h-2.4zM79.2 2.4h2.4v2.4h-2.4zM79.2 24.0h2.4v2.4h-2.4zM79.2 84.0h2.4v2.4h-2.4zM84.0 0.0h2.4v2.4h-2.4zM86.4 19.2h2.4v2.4h-2.4zM86.4 79.2h2.4v2.4h-2.4zM88.8 60.0h2.4v2.4h-2.4zM88.8 67.2h2.4v2.4h-2.4zM88.8 88.8h2.4v2.4h-2.4zM93.6 40.8h2.4v2.4h-2.4zM93.6 64.8h2.4v2.4h-2.4z" fill="#000000"/></pattern>
<pattern id="pWatL" width="96" height="96" patternUnits="userSpaceOnUse"><rect width="96" height="96" fill="#33b8ec"/><path d="M2.4 16.8h4.8v2.4h-4.8zM2.4 79.2h2.4v2.4h-2.4zM4.8 33.6h4.8v2.4h-4.8zM4.8 52.8h4.8v2.4h-4.8zM4.8 62.4h2.4v2.4h-2.4zM4.8 88.8h2.4v2.4h-2.4zM7.2 4.8h4.8v2.4h-4.8zM7.2 19.2h2.4v2.4h-2.4zM7.2 88.8h2.4v2.4h-2.4zM9.6 60.0h4.8v2.4h-4.8zM14.4 81.6h4.8v2.4h-4.8zM19.2 57.6h2.4v2.4h-2.4zM21.6 33.6h2.4v2.4h-2.4zM24.0 4.8h2.4v2.4h-2.4zM26.4 2.4h2.4v2.4h-2.4zM26.4 24.0h2.4v2.4h-2.4zM26.4 76.8h4.8v2.4h-4.8zM28.8 55.2h2.4v2.4h-2.4zM28.8 62.4h2.4v2.4h-2.4zM28.8 91.2h2.4v2.4h-2.4zM31.2 28.8h4.8v2.4h-4.8zM31.2 62.4h4.8v2.4h-4.8zM31.2 74.4h2.4v2.4h-2.4zM33.6 0.0h2.4v2.4h-2.4zM33.6 36.0h2.4v2.4h-2.4zM33.6 43.2h4.8v2.4h-4.8zM36.0 9.6h2.4v2.4h-2.4zM36.0 28.8h2.4v2.4h-2.4zM40.8 60.0h4.8v2.4h-4.8zM43.2 2.4h4.8v2.4h-4.8zM43.2 52.8h4.8v2.4h-4.8zM45.6 16.8h2.4v2.4h-2.4zM48.0 33.6h2.4v2.4h-2.4zM48.0 50.4h4.8v2.4h-4.8zM55.2 12.0h4.8v2.4h-4.8zM57.6 24.0h2.4v2.4h-2.4zM57.6 26.4h2.4v2.4h-2.4zM57.6 33.6h2.4v2.4h-2.4zM57.6 45.6h2.4v2.4h-2.4zM60.0 9.6h2.4v2.4h-2.4zM60.0 31.2h4.8v2.4h-4.8zM60.0 64.8h2.4v2.4h-2.4zM60.0 72.0h2.4v2.4h-2.4zM67.2 19.2h4.8v2.4h-4.8zM67.2 45.6h2.4v2.4h-2.4zM69.6 19.2h4.8v2.4h-4.8zM74.4 43.2h4.8v2.4h-4.8zM76.8 69.6h4.8v2.4h-4.8zM81.6 45.6h4.8v2.4h-4.8zM84.0 24.0h2.4v2.4h-2.4zM86.4 76.8h4.8v2.4h-4.8zM88.8 2.4h2.4v2.4h-2.4zM88.8 52.8h2.4v2.4h-2.4zM88.8 72.0h2.4v2.4h-2.4zM91.2 67.2h2.4v2.4h-2.4z" fill="#1f6e8e"/><path d="M2.4 91.2h2.4v2.4h-2.4zM4.8 31.2h2.4v2.4h-2.4zM9.6 19.2h2.4v2.4h-2.4zM9.6 24.0h2.4v2.4h-2.4zM9.6 81.6h2.4v2.4h-2.4zM12.0 69.6h2.4v2.4h-2.4zM16.8 72.0h2.4v2.4h-2.4zM21.6 36.0h2.4v2.4h-2.4zM24.0 84.0h2.4v2.4h-2.4zM24.0 93.6h2.4v2.4h-2.4zM26.4 48.0h2.4v2.4h-2.4zM36.0 52.8h2.4v2.4h-2.4zM36.0 93.6h2.4v2.4h-2.4zM38.4 0.0h2.4v2.4h-2.4zM40.8 64.8h2.4v2.4h-2.4zM43.2 24.0h2.4v2.4h-2.4zM45.6 48.0h2.4v2.4h-2.4zM48.0 24.0h2.4v2.4h-2.4zM48.0 72.0h2.4v2.4h-2.4zM48.0 81.6h2.4v2.4h-2.4zM50.4 91.2h2.4v2.4h-2.4zM52.8 74.4h2.4v2.4h-2.4zM60.0 19.2h2.4v2.4h-2.4zM79.2 67.2h2.4v2.4h-2.4zM81.6 28.8h2.4v2.4h-2.4zM91.2 57.6h2.4v2.4h-2.4z" fill="#000000"/></pattern>
<pattern id="pRed" width="48" height="48" patternUnits="userSpaceOnUse"><rect width="48" height="48" fill="#ff1a10"/><path d="M0.0 7.2h4.8v2.4h-4.8zM0.0 21.6h2.4v2.4h-2.4zM0.0 33.6h2.4v2.4h-2.4zM0.0 38.4h2.4v2.4h-2.4zM2.4 0.0h2.4v2.4h-2.4zM2.4 7.2h4.8v2.4h-4.8zM2.4 12.0h2.4v2.4h-2.4zM2.4 16.8h2.4v2.4h-2.4zM2.4 38.4h2.4v2.4h-2.4zM4.8 0.0h2.4v2.4h-2.4zM4.8 4.8h2.4v2.4h-2.4zM4.8 9.6h2.4v2.4h-2.4zM4.8 12.0h4.8v2.4h-4.8zM4.8 19.2h2.4v2.4h-2.4zM4.8 21.6h2.4v2.4h-2.4zM4.8 36.0h2.4v2.4h-2.4zM4.8 38.4h2.4v2.4h-2.4zM7.2 0.0h2.4v2.4h-2.4zM7.2 26.4h2.4v2.4h-2.4zM7.2 28.8h2.4v2.4h-2.4zM7.2 33.6h4.8v2.4h-4.8zM7.2 36.0h2.4v2.4h-2.4zM7.2 40.8h2.4v2.4h-2.4zM7.2 45.6h2.4v2.4h-2.4zM9.6 4.8h2.4v2.4h-2.4zM9.6 9.6h2.4v2.4h-2.4zM9.6 43.2h4.8v2.4h-4.8zM12.0 0.0h4.8v2.4h-4.8zM12.0 4.8h2.4v2.4h-2.4zM12.0 14.4h4.8v2.4h-4.8zM12.0 33.6h2.4v2.4h-2.4zM12.0 36.0h2.4v2.4h-2.4zM12.0 40.8h2.4v2.4h-2.4zM12.0 43.2h4.8v2.4h-4.8zM14.4 9.6h2.4v2.4h-2.4zM14.4 12.0h2.4v2.4h-2.4zM14.4 28.8h2.4v2.4h-2.4zM14.4 40.8h2.4v2.4h-2.4zM14.4 43.2h2.4v2.4h-2.4zM16.8 0.0h2.4v2.4h-2.4zM16.8 2.4h2.4v2.4h-2.4zM16.8 4.8h2.4v2.4h-2.4zM16.8 12.0h4.8v2.4h-4.8zM16.8 21.6h4.8v2.4h-4.8zM16.8 26.4h2.4v2.4h-2.4zM16.8 38.4h2.4v2.4h-2.4zM16.8 40.8h2.4v2.4h-2.4zM19.2 0.0h4.8v2.4h-4.8zM19.2 4.8h2.4v2.4h-2.4zM19.2 7.2h4.8v2.4h-4.8zM19.2 9.6h2.4v2.4h-2.4zM19.2 14.4h4.8v2.4h-4.8zM19.2 24.0h2.4v2.4h-2.4zM19.2 26.4h2.4v2.4h-2.4zM19.2 33.6h2.4v2.4h-2.4zM21.6 16.8h2.4v2.4h-2.4zM21.6 21.6h4.8v2.4h-4.8zM21.6 26.4h2.4v2.4h-2.4zM21.6 28.8h2.4v2.4h-2.4zM21.6 31.2h2.4v2.4h-2.4zM21.6 36.0h2.4v2.4h-2.4zM21.6 40.8h2.4v2.4h-2.4zM24.0 0.0h2.4v2.4h-2.4zM24.0 2.4h4.8v2.4h-4.8zM24.0 7.2h2.4v2.4h-2.4zM24.0 19.2h2.4v2.4h-2.4zM24.0 21.6h2.4v2.4h-2.4zM24.0 28.8h2.4v2.4h-2.4zM24.0 31.2h2.4v2.4h-2.4zM24.0 45.6h2.4v2.4h-2.4zM26.4 0.0h2.4v2.4h-2.4zM26.4 2.4h2.4v2.4h-2.4zM26.4 4.8h2.4v2.4h-2.4zM26.4 14.4h4.8v2.4h-4.8zM26.4 16.8h4.8v2.4h-4.8zM26.4 19.2h2.4v2.4h-2.4zM26.4 21.6h2.4v2.4h-2.4zM26.4 24.0h4.8v2.4h-4.8zM26.4 28.8h2.4v2.4h-2.4zM26.4 43.2h4.8v2.4h-4.8zM28.8 0.0h2.4v2.4h-2.4zM28.8 14.4h2.4v2.4h-2.4zM28.8 36.0h2.4v2.4h-2.4zM28.8 45.6h4.8v2.4h-4.8zM31.2 7.2h2.4v2.4h-2.4zM31.2 9.6h2.4v2.4h-2.4zM31.2 16.8h2.4v2.4h-2.4zM31.2 19.2h2.4v2.4h-2.4zM33.6 4.8h4.8v2.4h-4.8zM33.6 7.2h2.4v2.4h-2.4zM33.6 12.0h2.4v2.4h-2.4zM33.6 14.4h2.4v2.4h-2.4zM33.6 19.2h2.4v2.4h-2.4zM33.6 24.0h2.4v2.4h-2.4zM33.6 26.4h2.4v2.4h-2.4zM33.6 31.2h4.8v2.4h-4.8zM33.6 43.2h2.4v2.4h-2.4zM36.0 14.4h4.8v2.4h-4.8zM36.0 19.2h2.4v2.4h-2.4zM36.0 24.0h4.8v2.4h-4.8zM36.0 33.6h2.4v2.4h-2.4zM36.0 40.8h2.4v2.4h-2.4zM38.4 0.0h2.4v2.4h-2.4zM38.4 4.8h2.4v2.4h-2.4zM38.4 7.2h2.4v2.4h-2.4zM38.4 16.8h4.8v2.4h-4.8zM38.4 31.2h2.4v2.4h-2.4zM40.8 0.0h2.4v2.4h-2.4zM40.8 7.2h2.4v2.4h-2.4zM40.8 14.4h4.8v2.4h-4.8zM40.8 16.8h4.8v2.4h-4.8zM40.8 21.6h4.8v2.4h-4.8zM40.8 31.2h2.4v2.4h-2.4zM40.8 36.0h2.4v2.4h-2.4zM40.8 40.8h4.8v2.4h-4.8zM40.8 45.6h2.4v2.4h-2.4zM43.2 7.2h2.4v2.4h-2.4zM43.2 16.8h2.4v2.4h-2.4zM43.2 28.8h4.8v2.4h-4.8zM45.6 0.0h4.8v2.4h-4.8zM45.6 12.0h4.8v2.4h-4.8zM45.6 19.2h4.8v2.4h-4.8zM45.6 21.6h4.8v2.4h-4.8zM45.6 38.4h2.4v2.4h-2.4zM45.6 45.6h4.8v2.4h-4.8z" fill="#ff6753"/><path d="" fill="#ff9a80"/></pattern>
<pattern id="pMag" width="48" height="48" patternUnits="userSpaceOnUse"><rect width="48" height="48" fill="#c31ccb"/><path d="M0.0 2.4h2.4v2.4h-2.4zM0.0 4.8h2.4v2.4h-2.4zM0.0 9.6h2.4v2.4h-2.4zM0.0 12.0h2.4v2.4h-2.4zM0.0 14.4h4.8v2.4h-4.8zM0.0 21.6h4.8v2.4h-4.8zM0.0 36.0h2.4v2.4h-2.4zM0.0 38.4h4.8v2.4h-4.8zM0.0 40.8h2.4v2.4h-2.4zM0.0 45.6h2.4v2.4h-2.4zM2.4 7.2h4.8v2.4h-4.8zM2.4 9.6h2.4v2.4h-2.4zM2.4 21.6h2.4v2.4h-2.4zM2.4 26.4h2.4v2.4h-2.4zM2.4 36.0h2.4v2.4h-2.4zM2.4 38.4h2.4v2.4h-2.4zM2.4 43.2h2.4v2.4h-2.4zM2.4 45.6h2.4v2.4h-2.4zM4.8 28.8h2.4v2.4h-2.4zM4.8 38.4h2.4v2.4h-2.4zM4.8 43.2h2.4v2.4h-2.4zM4.8 45.6h4.8v2.4h-4.8zM7.2 0.0h2.4v2.4h-2.4zM7.2 2.4h4.8v2.4h-4.8zM7.2 9.6h2.4v2.4h-2.4zM7.2 21.6h2.4v2.4h-2.4zM7.2 31.2h4.8v2.4h-4.8zM7.2 33.6h4.8v2.4h-4.8zM7.2 40.8h4.8v2.4h-4.8zM9.6 14.4h2.4v2.4h-2.4zM9.6 28.8h2.4v2.4h-2.4zM9.6 31.2h4.8v2.4h-4.8zM9.6 33.6h4.8v2.4h-4.8zM9.6 38.4h4.8v2.4h-4.8zM9.6 40.8h4.8v2.4h-4.8zM9.6 45.6h2.4v2.4h-2.4zM12.0 2.4h4.8v2.4h-4.8zM12.0 9.6h2.4v2.4h-2.4zM12.0 19.2h4.8v2.4h-4.8zM12.0 24.0h2.4v2.4h-2.4zM12.0 26.4h4.8v2.4h-4.8zM12.0 33.6h2.4v2.4h-2.4zM12.0 36.0h2.4v2.4h-2.4zM12.0 45.6h2.4v2.4h-2.4zM14.4 0.0h2.4v2.4h-2.4zM14.4 9.6h2.4v2.4h-2.4zM14.4 24.0h2.4v2.4h-2.4zM14.4 28.8h4.8v2.4h-4.8zM14.4 31.2h4.8v2.4h-4.8zM16.8 2.4h4.8v2.4h-4.8zM16.8 4.8h4.8v2.4h-4.8zM16.8 21.6h2.4v2.4h-2.4zM16.8 33.6h2.4v2.4h-2.4zM19.2 4.8h4.8v2.4h-4.8zM19.2 7.2h2.4v2.4h-2.4zM19.2 12.0h2.4v2.4h-2.4zM19.2 24.0h4.8v2.4h-4.8zM19.2 43.2h4.8v2.4h-4.8zM19.2 45.6h4.8v2.4h-4.8zM21.6 2.4h2.4v2.4h-2.4zM21.6 4.8h2.4v2.4h-2.4zM21.6 28.8h2.4v2.4h-2.4zM21.6 31.2h4.8v2.4h-4.8zM21.6 36.0h2.4v2.4h-2.4zM24.0 4.8h2.4v2.4h-2.4zM24.0 7.2h4.8v2.4h-4.8zM26.4 2.4h2.4v2.4h-2.4zM26.4 9.6h4.8v2.4h-4.8zM26.4 14.4h4.8v2.4h-4.8zM26.4 16.8h2.4v2.4h-2.4zM26.4 24.0h2.4v2.4h-2.4zM26.4 28.8h2.4v2.4h-2.4zM26.4 33.6h2.4v2.4h-2.4zM26.4 45.6h2.4v2.4h-2.4zM28.8 4.8h2.4v2.4h-2.4zM28.8 9.6h2.4v2.4h-2.4zM28.8 14.4h2.4v2.4h-2.4zM28.8 21.6h2.4v2.4h-2.4zM28.8 28.8h4.8v2.4h-4.8zM28.8 31.2h2.4v2.4h-2.4zM28.8 33.6h4.8v2.4h-4.8zM28.8 43.2h4.8v2.4h-4.8zM31.2 4.8h4.8v2.4h-4.8zM31.2 12.0h2.4v2.4h-2.4zM31.2 19.2h2.4v2.4h-2.4zM31.2 21.6h2.4v2.4h-2.4zM31.2 33.6h4.8v2.4h-4.8zM31.2 38.4h4.8v2.4h-4.8zM31.2 40.8h4.8v2.4h-4.8zM31.2 43.2h2.4v2.4h-2.4zM33.6 2.4h2.4v2.4h-2.4zM33.6 4.8h2.4v2.4h-2.4zM33.6 7.2h4.8v2.4h-4.8zM33.6 9.6h2.4v2.4h-2.4zM33.6 14.4h2.4v2.4h-2.4zM33.6 19.2h2.4v2.4h-2.4zM36.0 4.8h4.8v2.4h-4.8zM36.0 7.2h2.4v2.4h-2.4zM36.0 9.6h4.8v2.4h-4.8zM36.0 12.0h2.4v2.4h-2.4zM36.0 19.2h4.8v2.4h-4.8zM36.0 21.6h2.4v2.4h-2.4zM36.0 24.0h2.4v2.4h-2.4zM36.0 26.4h2.4v2.4h-2.4zM36.0 33.6h2.4v2.4h-2.4zM36.0 40.8h2.4v2.4h-2.4zM38.4 0.0h2.4v2.4h-2.4zM38.4 2.4h4.8v2.4h-4.8zM38.4 4.8h2.4v2.4h-2.4zM38.4 7.2h4.8v2.4h-4.8zM38.4 12.0h2.4v2.4h-2.4zM38.4 33.6h2.4v2.4h-2.4zM38.4 38.4h2.4v2.4h-2.4zM40.8 2.4h2.4v2.4h-2.4zM40.8 24.0h4.8v2.4h-4.8zM40.8 26.4h2.4v2.4h-2.4zM40.8 28.8h2.4v2.4h-2.4zM40.8 43.2h2.4v2.4h-2.4zM43.2 7.2h2.4v2.4h-2.4zM43.2 9.6h4.8v2.4h-4.8zM43.2 12.0h2.4v2.4h-2.4zM43.2 14.4h2.4v2.4h-2.4zM43.2 36.0h4.8v2.4h-4.8zM43.2 38.4h2.4v2.4h-2.4zM43.2 45.6h4.8v2.4h-4.8zM45.6 0.0h2.4v2.4h-2.4zM45.6 7.2h2.4v2.4h-2.4zM45.6 14.4h2.4v2.4h-2.4zM45.6 16.8h2.4v2.4h-2.4zM45.6 21.6h2.4v2.4h-2.4zM45.6 31.2h4.8v2.4h-4.8zM45.6 36.0h2.4v2.4h-2.4zM45.6 38.4h2.4v2.4h-2.4zM45.6 43.2h2.4v2.4h-2.4z" fill="#d75edc"/><path d="" fill="#e58ae8"/></pattern>
</defs>
<rect width="1996" height="2304" fill="#fff"/>
<g id="panelA">
<polyline fill="none" stroke="#33b8ec" stroke-width="2.3" stroke-linejoin="round" points="206.0,487.1 214.4,490.4 225.6,479.2 239.5,467.5 254.9,469.5 266.0,459.2 273.0,461.1 288.3,449.1 295.3,453.3 307.9,441.0 319.0,437.4 328.8,437.4 338.6,432.4 345.5,434.6 357.3,444.4 369.3,456.4 384.6,454.1 398.5,461.9 406.9,463.9 422.3,468.9 437.6,466.7 453.0,492.6 460.8,481.5 468.3,482.9 476.7,493.2 484.5,493.8 492.6,475.1 500.9,487.6 508.8,486.2 515.7,487.6 524.9,493.2 533.9,484.8 541.7,480.6 550.6,486.2 564.6,489.6 574.3,489.8 584.1,497.4 591.1,502.1 591.2,502.1 599.5,498.8 607.3,505.7 615.7,534.5 624.1,501.6 632.5,528.1 633.6,483.4 638.6,518.3 641.4,475.9 646.4,498.8 649.8,486.2 653.9,498.2 661.5,493.2 669.3,496.0 683.2,497.4 708.3,495.4 730.7,493.8 739.0,491.8 747.4,494.6 755.8,501.6 763.6,532.3 772.0,515.5 780.9,506.6 789.3,502.1 797.1,489.0 806.0,492.6 824.1,489.8 838.9,488.2 856.2,489.8 864.6,486.2 873.0,477.8 882.7,475.1 891.1,483.4 907.8,491.8 917.1,494.6 924.6,502.1 933.8,504.9 942.2,549.0 950.5,576.9 1019.5,575.5 1026.4,508.5 1034.2,519.7 1043.2,514.1 1051.5,497.4 1059.9,492.6 1075.3,486.2 1086.5,489.8 1101.9,491.8 1115.8,490.4 1124.2,487.6 1143.7,489.8 1166.0,491.8 1180.0,489.0 1219.0,489.0 1227.4,486.8 1241.4,486.8 1260.9,489.8 1270.7,493.2 1279.0,489.0 1286.6,501.6 1291.0,562.9 1300.0,574.7 1406.0,574.1 1412.1,496.0 1427.7,495.4 1435.3,493.2 1440.9,486.2 1447.8,521.1 1454.0,506.6 1461.8,500.2 1467.9,486.2 1474.3,483.4 1480.8,484.3 1486.9,492.6 1493.3,489.0 1506.4,482.6 1513.4,483.4 1520.4,489.0 1531.5,490.4 1539.9,497.4 1546.9,496.0 1556.8,489.0 1565.8,494.6 1576.9,491.0 1593.1,491.8 1603.4,498.8 1624.3,498.2 1629.9,500.2 1635.5,493.8 1641.1,498.8 1648.1,497.4 1659.2,501.6 1664.8,498.8 1676.8,505.7 1682.9,498.8 1688.5,498.8 1694.7,515.0 1703.9,500.2 1709.4,500.2 1723.4,528.1 1729.0,525.3 1738.7,545.6 1744.9,544.8 1755.5,539.2 1768.0,554.6 1777.8,546.2 1783.4,551.8 1789.0,550.4 1794.5,565.7 1804.3,561.6 1816.9,572.7 1826.6,575.5 1830.8,560.2"/>
<polyline fill="none" stroke="#7fffd4" stroke-width="2.3" stroke-linejoin="round" points="206.0,468.1 214.4,468.9 225.6,454.1 239.5,444.4 253.5,443.0 266.0,434.0 273.0,433.2 288.3,418.4 295.3,420.6 307.9,406.7 319.0,401.1 328.8,400.3 338.6,390.5 349.7,395.0 357.3,392.2 367.9,399.7 384.6,396.1 398.5,403.1 406.9,403.3 422.3,407.3 437.6,396.9 453.0,425.7 460.8,400.6 468.3,403.9 476.7,423.4 484.5,422.9 492.6,390.5 500.9,412.3 508.8,410.9 515.7,413.7 524.9,422.0 533.9,402.5 541.7,396.1 550.6,406.7 564.6,413.1 574.3,413.1 584.1,427.6 591.1,432.6 591.2,432.4 599.5,426.2 607.3,437.4 615.7,495.4 624.1,424.0 632.5,454.1 633.6,385.8 638.6,447.2 641.4,378.8 646.4,417.9 649.8,401.1 653.9,420.1 661.5,413.7 669.3,419.3 676.3,420.6 693.0,420.1 708.3,418.4 730.7,416.5 739.0,411.7 747.4,416.5 755.8,429.0 763.6,477.8 772.0,424.0 780.9,420.6 789.3,413.7 797.1,395.5 806.0,403.9 815.8,403.9 824.1,401.1 838.9,396.9 847.9,400.3 856.2,401.1 864.6,395.5 873.0,381.6 882.7,372.7 891.1,386.6 898.1,391.4 907.8,400.6 917.1,399.7 924.6,413.7 933.8,408.9 942.2,512.7 950.5,576.9 1017.5,576.3 1022.2,484.8 1026.4,383.0 1034.2,423.4 1043.2,421.2 1051.5,382.1 1059.9,383.8 1075.3,373.8 1086.5,381.6 1101.9,384.4 1115.8,381.6 1124.2,378.2 1143.7,380.2 1160.4,383.0 1171.6,382.1 1180.0,379.4 1193.9,377.4 1219.0,376.0 1227.4,371.8 1235.8,370.4 1248.3,374.1 1256.7,371.8 1270.7,378.8 1279.0,370.4 1286.6,378.8 1290.2,484.8 1294.4,565.7 1302.7,574.7 1406.0,574.1 1412.1,470.9 1419.4,381.6 1427.7,380.2 1435.3,374.6 1440.9,370.4 1447.8,433.2 1454.0,416.5 1461.8,402.5 1467.9,362.1 1474.3,357.0 1480.8,357.9 1486.9,381.0 1493.3,357.0 1500.0,364.3 1506.4,357.0 1513.4,357.9 1520.4,369.0 1531.5,372.7 1544.1,376.6 1556.8,371.0 1565.8,376.0 1576.9,376.6 1586.7,379.4 1593.1,377.4 1599.8,388.6 1611.8,387.2 1618.8,391.4 1635.5,390.5 1648.1,395.0 1663.4,394.1 1670.4,395.5 1676.8,402.5 1682.9,395.0 1688.5,396.9 1694.7,429.0 1700.2,403.9 1706.7,404.5 1717.0,426.2 1723.4,466.7 1728.1,465.3 1733.7,491.8 1744.9,509.9 1751.3,500.2 1756.0,498.8 1762.5,515.5 1768.0,533.6 1772.2,530.9 1777.8,512.7 1783.4,522.5 1789.0,521.1 1794.5,547.6 1800.1,540.6 1804.3,539.2 1809.9,554.6 1816.9,565.7 1825.2,568.5 1830.8,565.7"/>
<polyline fill="none" stroke="#bdb76b" stroke-width="2.3" stroke-linejoin="round" points="206.0,452.2 215.8,443.0 225.6,426.2 233.9,419.3 242.3,410.9 254.9,408.1 266.0,397.8 273.0,396.9 281.4,387.2 288.3,376.6 295.3,378.8 307.9,357.9 319.0,350.1 328.8,346.7 337.2,331.4 349.7,325.8 357.3,312.4 369.3,318.8 384.6,307.6 398.5,313.2 406.9,308.2 422.3,310.4 429.2,303.5 437.6,286.7 453.0,317.4 460.8,269.4 468.3,271.4 476.7,299.3 484.5,303.5 492.6,246.3 500.9,283.4 508.8,279.2 515.7,282.5 524.9,296.5 533.9,264.4 541.7,253.8 550.6,267.2 564.6,278.3 574.3,278.9 584.1,297.9 591.1,307.6 591.2,307.6 599.5,296.5 607.3,310.4 615.7,405.3 624.1,291.7 632.5,325.2 633.6,229.5 638.6,323.0 641.4,219.8 646.4,272.8 649.8,250.4 653.9,278.3 661.5,266.6 669.3,276.1 676.3,278.9 693.0,278.3 700.0,273.3 708.3,271.9 719.5,268.6 730.7,267.2 739.0,256.6 747.4,261.6 755.8,278.3 763.6,360.7 772.0,271.4 780.9,265.8 789.3,272.8 797.1,235.1 806.0,247.7 815.8,247.7 824.1,239.3 838.9,230.9 847.9,236.5 856.2,239.3 864.6,228.1 873.0,203.0 882.7,194.6 891.1,213.6 898.1,219.8 907.8,233.7 917.1,228.1 924.6,247.7 933.8,223.9 942.2,387.2 950.5,576.9 970.6,577.5 992.9,577.5 1006.9,575.5 1017.5,562.9 1022.2,373.2 1026.4,177.9 1034.2,270.5 1043.2,277.0 1051.5,215.6 1059.9,214.7 1075.3,194.6 1086.5,208.6 1099.1,214.2 1115.8,210.8 1124.2,202.5 1143.7,205.8 1156.3,210.0 1171.6,210.8 1180.0,205.2 1193.9,201.6 1203.7,202.5 1219.0,199.7 1227.4,190.5 1235.8,188.5 1248.3,196.0 1256.7,188.5 1270.7,196.0 1279.0,180.7 1286.6,191.9 1289.4,345.3 1294.4,560.2 1301.4,572.7 1319.5,575.5 1366.9,575.5 1403.2,573.5 1407.4,568.5 1412.1,373.2 1419.4,226.7 1427.7,222.0 1435.3,203.0 1440.9,177.9 1447.8,297.9 1454.0,274.7 1461.8,276.1 1467.9,182.1 1474.3,167.3 1480.8,165.3 1486.9,204.4 1493.3,165.3 1500.0,187.7 1506.4,170.9 1513.4,170.9 1520.4,190.5 1531.5,194.1 1544.1,203.0 1556.8,191.9 1565.8,204.4 1576.9,205.8 1586.7,211.4 1593.1,209.2 1599.8,225.3 1611.8,223.1 1618.8,231.5 1629.9,233.7 1641.1,240.7 1653.6,239.8 1660.6,245.4 1670.4,246.3 1676.8,254.6 1682.9,248.2 1688.5,249.9 1694.7,300.7 1700.2,262.2 1706.7,261.6 1712.2,283.9 1717.0,300.7 1719.2,328.6 1723.4,387.2 1728.1,380.2 1733.7,429.0 1738.7,440.2 1744.9,458.3 1751.3,433.2 1756.0,429.0 1762.5,465.3 1768.0,496.0 1772.2,494.6 1777.8,456.9 1783.4,482.0 1789.0,480.6 1794.5,532.3 1800.1,509.9 1804.3,505.7 1809.9,540.6 1819.7,565.7 1826.6,561.6 1830.8,571.3"/>
<path d="M127.5 25.0V578.3H1913" fill="none" stroke="#8c8c8c" stroke-width="2"/>
<line x1="119.0" x2="127.5" y1="578.3" y2="578.3" stroke="#555" stroke-width="1.8"/>
<text x="110.5" y="585.3" font-size="19.4" text-anchor="end" fill="#333">0.00</text>
<line x1="119.0" x2="127.5" y1="486.1" y2="486.1" stroke="#555" stroke-width="1.8"/>
<text x="110.5" y="493.1" font-size="19.4" text-anchor="end" fill="#333">0.05</text>
<line x1="119.0" x2="127.5" y1="394.0" y2="394.0" stroke="#555" stroke-width="1.8"/>
<text x="110.5" y="401.0" font-size="19.4" text-anchor="end" fill="#333">0.10</text>
<line x1="119.0" x2="127.5" y1="301.8" y2="301.8" stroke="#555" stroke-width="1.8"/>
<text x="110.5" y="308.8" font-size="19.4" text-anchor="end" fill="#333">0.15</text>
<line x1="119.0" x2="127.5" y1="209.7" y2="209.7" stroke="#555" stroke-width="1.8"/>
<text x="110.5" y="216.7" font-size="19.4" text-anchor="end" fill="#333">0.20</text>
<line x1="119.0" x2="127.5" y1="117.5" y2="117.5" stroke="#555" stroke-width="1.8"/>
<text x="110.5" y="124.5" font-size="19.4" text-anchor="end" fill="#333">0.25</text>
<line x1="119.0" x2="127.5" y1="25.4" y2="25.4" stroke="#555" stroke-width="1.8"/>
<text x="110.5" y="32.4" font-size="19.4" text-anchor="end" fill="#333">0.30</text>
<line x1="284.8" x2="284.8" y1="578.3" y2="587.3" stroke="#555" stroke-width="1.8"/>
<text x="284.8" y="608.5" font-size="19.4" text-anchor="middle" fill="#333">500</text>
<line x1="671.8" x2="671.8" y1="578.3" y2="587.3" stroke="#555" stroke-width="1.8"/>
<text x="671.8" y="608.5" font-size="19.4" text-anchor="middle" fill="#333">1000</text>
<line x1="1058.8" x2="1058.8" y1="578.3" y2="587.3" stroke="#555" stroke-width="1.8"/>
<text x="1058.8" y="608.5" font-size="19.4" text-anchor="middle" fill="#333">1500</text>
<line x1="1445.8" x2="1445.8" y1="578.3" y2="587.3" stroke="#555" stroke-width="1.8"/>
<text x="1445.8" y="608.5" font-size="19.4" text-anchor="middle" fill="#333">2000</text>
<line x1="1832.8" x2="1832.8" y1="578.3" y2="587.3" stroke="#555" stroke-width="1.8"/>
<text x="1832.8" y="608.5" font-size="19.4" text-anchor="middle" fill="#333">2500</text>
<rect x="146.5" y="44" width="337.5" height="193.7" rx="6" fill="#fff" fill-opacity="0.8" stroke="#f2f2f2" stroke-width="1.5"/>
<line x1="159.6" x2="244.7" y1="77.3" y2="77.3" stroke="#33b8ec" stroke-width="2.6"/>
<text x="274.5" y="90.7" font-size="40.4" fill="#1a1a1a">Water</text>
<line x1="159.6" x2="244.7" y1="137.8" y2="137.8" stroke="#7fffd4" stroke-width="2.6"/>
<text x="274.5" y="152.1" font-size="40.4" fill="#1a1a1a">Wet Sand</text>
<line x1="159.6" x2="244.7" y1="198.4" y2="198.4" stroke="#bdb76b" stroke-width="2.6"/>
<text x="274.5" y="212.9" font-size="40.4" fill="#1a1a1a">Dry Sand</text>
<text transform="translate(55.2 305.8) rotate(-90)" font-size="44" text-anchor="middle" fill="#111">R</text>
<clipPath id="cx"><rect x="700" y="600" width="700" height="55.5"/></clipPath>
<text x="828.5" y="653.7" font-size="44.2" fill="#111" clip-path="url(#cx)">Wavelength (nm)</text>
<text x="1872" y="83.4" font-size="63" font-weight="bold" fill="#000">A</text>
</g>
<g id="panelB" shape-rendering="crispEdges">
<clipPath id="cb0"><rect x="21.0" y="683.6" width="673.3" height="526.8"/></clipPath>
<rect x="21.0" y="683.6" width="673.3" height="526.8" fill="#000"/>
<g clip-path="url(#cb0)">
<rect x="117.2" y="707.3" width="24.3" height="24.3" fill="#57106e"/>
<rect x="141.2" y="707.3" width="24.3" height="24.3" fill="#420a68"/>
<rect x="165.3" y="707.3" width="24.3" height="24.3" fill="#0e092b"/>
<rect x="117.2" y="731.3" width="24.3" height="24.3" fill="#0e092b"/>
<rect x="141.2" y="731.3" width="24.3" height="24.3" fill="#1c0c43"/>
<rect x="165.3" y="731.3" width="24.3" height="24.3" fill="#420a68"/>
<rect x="189.3" y="731.3" width="24.3" height="24.3" fill="#57106e"/>
<rect x="213.4" y="731.3" width="24.3" height="24.3" fill="#4f0d6c"/>
<rect x="93.1" y="755.3" width="24.3" height="24.3" fill="#420a68"/>
<rect x="117.2" y="755.3" width="24.3" height="24.3" fill="#1c0c43"/>
<rect x="141.2" y="755.3" width="24.3" height="24.3" fill="#1c0c43"/>
<rect x="165.3" y="755.3" width="24.3" height="24.3" fill="#0e092b"/>
<rect x="189.3" y="755.3" width="24.3" height="24.3" fill="#050417"/>
<rect x="261.5" y="755.3" width="24.3" height="24.3" fill="#0e092b"/>
<rect x="93.1" y="779.3" width="24.3" height="24.3" fill="#7f1e6c"/>
<rect x="117.2" y="779.3" width="24.3" height="24.3" fill="#6a176e"/>
<rect x="141.2" y="779.3" width="24.3" height="24.3" fill="#57106e"/>
<rect x="165.3" y="779.3" width="24.3" height="24.3" fill="#2b0b57"/>
<rect x="189.3" y="779.3" width="24.3" height="24.3" fill="#0e092b"/>
<rect x="69.1" y="803.3" width="24.3" height="24.3" fill="#bc3754"/>
<rect x="93.1" y="803.3" width="24.3" height="24.3" fill="#a82e5f"/>
<rect x="117.2" y="803.3" width="24.3" height="24.3" fill="#a82e5f"/>
<rect x="141.2" y="803.3" width="24.3" height="24.3" fill="#932667"/>
<rect x="165.3" y="803.3" width="24.3" height="24.3" fill="#7f1e6c"/>
<rect x="189.3" y="803.3" width="24.3" height="24.3" fill="#57106e"/>
<rect x="213.4" y="803.3" width="24.3" height="24.3" fill="#1c0c43"/>
<rect x="69.1" y="827.3" width="24.3" height="24.3" fill="#f98c0a"/>
<rect x="93.1" y="827.3" width="24.3" height="24.3" fill="#ea632a"/>
<rect x="117.2" y="827.3" width="24.3" height="24.3" fill="#ea632a"/>
<rect x="141.2" y="827.3" width="24.3" height="24.3" fill="#dd513a"/>
<rect x="165.3" y="827.3" width="24.3" height="24.3" fill="#cc4248"/>
<rect x="189.3" y="827.3" width="24.3" height="24.3" fill="#a82e5f"/>
<rect x="213.4" y="827.3" width="24.3" height="24.3" fill="#6a176e"/>
<rect x="237.4" y="827.3" width="24.3" height="24.3" fill="#2b0b57"/>
<rect x="45.0" y="851.3" width="24.3" height="24.3" fill="#fbba1f"/>
<rect x="69.1" y="851.3" width="24.3" height="24.3" fill="#fcac11"/>
<rect x="93.1" y="851.3" width="24.3" height="24.3" fill="#fc9f07"/>
<rect x="117.2" y="851.3" width="24.3" height="24.3" fill="#f98c0a"/>
<rect x="141.2" y="851.3" width="24.3" height="24.3" fill="#f98c0a"/>
<rect x="165.3" y="851.3" width="24.3" height="24.3" fill="#f78410"/>
<rect x="189.3" y="851.3" width="24.3" height="24.3" fill="#ea632a"/>
<rect x="213.4" y="851.3" width="24.3" height="24.3" fill="#bc3754"/>
<rect x="237.4" y="851.3" width="24.3" height="24.3" fill="#7f1e6c"/>
<rect x="261.5" y="851.3" width="24.3" height="24.3" fill="#4f0d6c"/>
<rect x="21.0" y="875.3" width="24.3" height="24.3" fill="#f8cd37"/>
<rect x="45.0" y="875.3" width="24.3" height="24.3" fill="#fac026"/>
<rect x="69.1" y="875.3" width="24.3" height="24.3" fill="#fbba1f"/>
<rect x="93.1" y="875.3" width="24.3" height="24.3" fill="#fbba1f"/>
<rect x="117.2" y="875.3" width="24.3" height="24.3" fill="#fcb418"/>
<rect x="141.2" y="875.3" width="24.3" height="24.3" fill="#fcac11"/>
<rect x="165.3" y="875.3" width="24.3" height="24.3" fill="#fcac11"/>
<rect x="189.3" y="875.3" width="24.3" height="24.3" fill="#fc9f07"/>
<rect x="213.4" y="875.3" width="24.3" height="24.3" fill="#f3761b"/>
<rect x="237.4" y="875.3" width="24.3" height="24.3" fill="#cc4248"/>
<rect x="261.5" y="875.3" width="24.3" height="24.3" fill="#a82e5f"/>
<rect x="285.5" y="875.3" width="24.3" height="24.3" fill="#6a176e"/>
<rect x="309.6" y="875.3" width="24.3" height="24.3" fill="#2b0b57"/>
<rect x="21.0" y="899.3" width="24.3" height="24.3" fill="#f78410"/>
<rect x="45.0" y="899.3" width="24.3" height="24.3" fill="#fcac11"/>
<rect x="69.1" y="899.3" width="24.3" height="24.3" fill="#f8cd37"/>
<rect x="93.1" y="899.3" width="24.3" height="24.3" fill="#f8cd37"/>
<rect x="117.2" y="899.3" width="24.3" height="24.3" fill="#f8cd37"/>
<rect x="141.2" y="899.3" width="24.3" height="24.3" fill="#f9c72f"/>
<rect x="165.3" y="899.3" width="24.3" height="24.3" fill="#fac026"/>
<rect x="189.3" y="899.3" width="24.3" height="24.3" fill="#fbba1f"/>
<rect x="213.4" y="899.3" width="24.3" height="24.3" fill="#fbba1f"/>
<rect x="237.4" y="899.3" width="24.3" height="24.3" fill="#fc9f07"/>
<rect x="261.5" y="899.3" width="24.3" height="24.3" fill="#f3761b"/>
<rect x="285.5" y="899.3" width="24.3" height="24.3" fill="#cc4248"/>
<rect x="309.6" y="899.3" width="24.3" height="24.3" fill="#a82e5f"/>
<rect x="333.6" y="899.3" width="24.3" height="24.3" fill="#7f1e6c"/>
<rect x="357.6" y="899.3" width="24.3" height="24.3" fill="#57106e"/>
<rect x="381.7" y="899.3" width="24.3" height="24.3" fill="#2b0b57"/>
<rect x="405.7" y="899.3" width="24.3" height="24.3" fill="#050417"/>
<rect x="45.0" y="923.3" width="24.3" height="24.3" fill="#f3761b"/>
<rect x="69.1" y="923.3" width="24.3" height="24.3" fill="#f98c0a"/>
<rect x="93.1" y="923.3" width="24.3" height="24.3" fill="#f98c0a"/>
<rect x="117.2" y="923.3" width="24.3" height="24.3" fill="#fcb418"/>
<rect x="141.2" y="923.3" width="24.3" height="24.3" fill="#f5db4c"/>
<rect x="165.3" y="923.3" width="24.3" height="24.3" fill="#f5db4c"/>
<rect x="189.3" y="923.3" width="24.3" height="24.3" fill="#f4e156"/>
<rect x="213.4" y="923.3" width="24.3" height="24.3" fill="#f4e156"/>
<rect x="237.4" y="923.3" width="24.3" height="24.3" fill="#f1ed71"/>
<rect x="261.5" y="923.3" width="24.3" height="24.3" fill="#f5db4c"/>
<rect x="285.5" y="923.3" width="24.3" height="24.3" fill="#fcb418"/>
<rect x="309.6" y="923.3" width="24.3" height="24.3" fill="#f98c0a"/>
<rect x="333.6" y="923.3" width="24.3" height="24.3" fill="#ea632a"/>
<rect x="357.6" y="923.3" width="24.3" height="24.3" fill="#cc4248"/>
<rect x="381.7" y="923.3" width="24.3" height="24.3" fill="#a82e5f"/>
<rect x="405.7" y="923.3" width="24.3" height="24.3" fill="#7f1e6c"/>
<rect x="429.8" y="923.3" width="24.3" height="24.3" fill="#6a176e"/>
<rect x="453.8" y="923.3" width="24.3" height="24.3" fill="#5f136e"/>
<rect x="93.1" y="947.3" width="24.3" height="24.3" fill="#e55c30"/>
<rect x="117.2" y="947.3" width="24.3" height="24.3" fill="#ef6e21"/>
<rect x="141.2" y="947.3" width="24.3" height="24.3" fill="#f57b17"/>
<rect x="165.3" y="947.3" width="24.3" height="24.3" fill="#f78410"/>
<rect x="189.3" y="947.3" width="24.3" height="24.3" fill="#fb9906"/>
<rect x="213.4" y="947.3" width="24.3" height="24.3" fill="#fb9906"/>
<rect x="237.4" y="947.3" width="24.3" height="24.3" fill="#fb9906"/>
<rect x="261.5" y="947.3" width="24.3" height="24.3" fill="#fac026"/>
<rect x="285.5" y="947.3" width="24.3" height="24.3" fill="#f5db4c"/>
<rect x="309.6" y="947.3" width="24.3" height="24.3" fill="#f1ed71"/>
<rect x="333.6" y="947.3" width="24.3" height="24.3" fill="#f4e156"/>
<rect x="357.6" y="947.3" width="24.3" height="24.3" fill="#f2f27d"/>
<rect x="381.7" y="947.3" width="24.3" height="24.3" fill="#f98c0a"/>
<rect x="405.7" y="947.3" width="24.3" height="24.3" fill="#ea632a"/>
<rect x="429.8" y="947.3" width="24.3" height="24.3" fill="#cc4248"/>
<rect x="453.8" y="947.3" width="24.3" height="24.3" fill="#932667"/>
<rect x="477.9" y="947.3" width="24.3" height="24.3" fill="#57106e"/>
<rect x="501.9" y="947.3" width="24.3" height="24.3" fill="#2b0b57"/>
<rect x="598.1" y="947.3" width="24.3" height="24.3" fill="#050417"/>
<rect x="117.2" y="971.3" width="24.3" height="24.3" fill="#b0315b"/>
<rect x="141.2" y="971.3" width="24.3" height="24.3" fill="#c63d4d"/>
<rect x="165.3" y="971.3" width="24.3" height="24.3" fill="#dd513a"/>
<rect x="189.3" y="971.3" width="24.3" height="24.3" fill="#e05536"/>
<rect x="213.4" y="971.3" width="24.3" height="24.3" fill="#e05536"/>
<rect x="237.4" y="971.3" width="24.3" height="24.3" fill="#e55c30"/>
<rect x="261.5" y="971.3" width="24.3" height="24.3" fill="#ea632a"/>
<rect x="285.5" y="971.3" width="24.3" height="24.3" fill="#ea632a"/>
<rect x="309.6" y="971.3" width="24.3" height="24.3" fill="#ea632a"/>
<rect x="333.6" y="971.3" width="24.3" height="24.3" fill="#f57b17"/>
<rect x="357.6" y="971.3" width="24.3" height="24.3" fill="#fcac11"/>
<rect x="381.7" y="971.3" width="24.3" height="24.3" fill="#f5f992"/>
<rect x="405.7" y="971.3" width="24.3" height="24.3" fill="#f4e156"/>
<rect x="429.8" y="971.3" width="24.3" height="24.3" fill="#fbba1f"/>
<rect x="453.8" y="971.3" width="24.3" height="24.3" fill="#f3761b"/>
<rect x="477.9" y="971.3" width="24.3" height="24.3" fill="#dd513a"/>
<rect x="501.9" y="971.3" width="24.3" height="24.3" fill="#7f1e6c"/>
<rect x="526.0" y="971.3" width="24.3" height="24.3" fill="#57106e"/>
<rect x="550.0" y="971.3" width="24.3" height="24.3" fill="#2b0b57"/>
<rect x="165.3" y="995.3" width="24.3" height="24.3" fill="#b0315b"/>
<rect x="189.3" y="995.3" width="24.3" height="24.3" fill="#b0315b"/>
<rect x="213.4" y="995.3" width="24.3" height="24.3" fill="#b3325a"/>
<rect x="237.4" y="995.3" width="24.3" height="24.3" fill="#b3325a"/>
<rect x="261.5" y="995.3" width="24.3" height="24.3" fill="#bc3754"/>
<rect x="285.5" y="995.3" width="24.3" height="24.3" fill="#c33b4f"/>
<rect x="309.6" y="995.3" width="24.3" height="24.3" fill="#d74b3f"/>
<rect x="333.6" y="995.3" width="24.3" height="24.3" fill="#ef6e21"/>
<rect x="357.6" y="995.3" width="24.3" height="24.3" fill="#f78410"/>
<rect x="381.7" y="995.3" width="24.3" height="24.3" fill="#fac026"/>
<rect x="405.7" y="995.3" width="24.3" height="24.3" fill="#f5f992"/>
<rect x="429.8" y="995.3" width="24.3" height="24.3" fill="#f4e156"/>
<rect x="453.8" y="995.3" width="24.3" height="24.3" fill="#fbba1f"/>
<rect x="477.9" y="995.3" width="24.3" height="24.3" fill="#fc9f07"/>
<rect x="501.9" y="995.3" width="24.3" height="24.3" fill="#dd513a"/>
<rect x="526.0" y="995.3" width="24.3" height="24.3" fill="#bc3754"/>
<rect x="550.0" y="995.3" width="24.3" height="24.3" fill="#7f1e6c"/>
<rect x="574.1" y="995.3" width="24.3" height="24.3" fill="#4a0c6b"/>
<rect x="213.4" y="1019.3" width="24.3" height="24.3" fill="#87216b"/>
<rect x="237.4" y="1019.3" width="24.3" height="24.3" fill="#932667"/>
<rect x="261.5" y="1019.3" width="24.3" height="24.3" fill="#8c2369"/>
<rect x="285.5" y="1019.3" width="24.3" height="24.3" fill="#a02a63"/>
<rect x="309.6" y="1019.3" width="24.3" height="24.3" fill="#cc4248"/>
<rect x="333.6" y="1019.3" width="24.3" height="24.3" fill="#e55c30"/>
<rect x="357.6" y="1019.3" width="24.3" height="24.3" fill="#f57b17"/>
<rect x="381.7" y="1019.3" width="24.3" height="24.3" fill="#fcac11"/>
<rect x="405.7" y="1019.3" width="24.3" height="24.3" fill="#f1ed71"/>
<rect x="429.8" y="1019.3" width="24.3" height="24.3" fill="#f2f27d"/>
<rect x="453.8" y="1019.3" width="24.3" height="24.3" fill="#f2e865"/>
<rect x="477.9" y="1019.3" width="24.3" height="24.3" fill="#fac026"/>
<rect x="501.9" y="1019.3" width="24.3" height="24.3" fill="#fcac11"/>
<rect x="526.0" y="1019.3" width="24.3" height="24.3" fill="#dd513a"/>
<rect x="550.0" y="1019.3" width="24.3" height="24.3" fill="#b0315b"/>
<rect x="574.1" y="1019.3" width="24.3" height="24.3" fill="#87216b"/>
<rect x="598.1" y="1019.3" width="24.3" height="24.3" fill="#57106e"/>
<rect x="622.2" y="1019.3" width="24.3" height="24.3" fill="#0e092b"/>
<rect x="261.5" y="1043.3" width="24.3" height="24.3" fill="#b0315b"/>
<rect x="285.5" y="1043.3" width="24.3" height="24.3" fill="#b3325a"/>
<rect x="309.6" y="1043.3" width="24.3" height="24.3" fill="#cc4248"/>
<rect x="333.6" y="1043.3" width="24.3" height="24.3" fill="#dd513a"/>
<rect x="357.6" y="1043.3" width="24.3" height="24.3" fill="#f68013"/>
<rect x="381.7" y="1043.3" width="24.3" height="24.3" fill="#fb9906"/>
<rect x="405.7" y="1043.3" width="24.3" height="24.3" fill="#fbba1f"/>
<rect x="429.8" y="1043.3" width="24.3" height="24.3" fill="#fcffa4"/>
<rect x="453.8" y="1043.3" width="24.3" height="24.3" fill="#f3f586"/>
<rect x="477.9" y="1043.3" width="24.3" height="24.3" fill="#f5db4c"/>
<rect x="501.9" y="1043.3" width="24.3" height="24.3" fill="#f6d543"/>
<rect x="526.0" y="1043.3" width="24.3" height="24.3" fill="#fc9f07"/>
<rect x="550.0" y="1043.3" width="24.3" height="24.3" fill="#e25734"/>
<rect x="574.1" y="1043.3" width="24.3" height="24.3" fill="#cc4248"/>
<rect x="598.1" y="1043.3" width="24.3" height="24.3" fill="#a82e5f"/>
<rect x="622.2" y="1043.3" width="24.3" height="24.3" fill="#6a176e"/>
<rect x="309.6" y="1067.3" width="24.3" height="24.3" fill="#c63d4d"/>
<rect x="333.6" y="1067.3" width="24.3" height="24.3" fill="#d34743"/>
<rect x="357.6" y="1067.3" width="24.3" height="24.3" fill="#ea632a"/>
<rect x="381.7" y="1067.3" width="24.3" height="24.3" fill="#f78410"/>
<rect x="405.7" y="1067.3" width="24.3" height="24.3" fill="#fcac11"/>
<rect x="429.8" y="1067.3" width="24.3" height="24.3" fill="#f9c72f"/>
<rect x="453.8" y="1067.3" width="24.3" height="24.3" fill="#f3f586"/>
<rect x="477.9" y="1067.3" width="24.3" height="24.3" fill="#f2f27d"/>
<rect x="501.9" y="1067.3" width="24.3" height="24.3" fill="#f2f27d"/>
<rect x="526.0" y="1067.3" width="24.3" height="24.3" fill="#f4e156"/>
<rect x="550.0" y="1067.3" width="24.3" height="24.3" fill="#fb9906"/>
<rect x="574.1" y="1067.3" width="24.3" height="24.3" fill="#ea632a"/>
<rect x="598.1" y="1067.3" width="24.3" height="24.3" fill="#dd513a"/>
<rect x="622.2" y="1067.3" width="24.3" height="24.3" fill="#c33b4f"/>
<rect x="357.6" y="1091.3" width="24.3" height="24.3" fill="#dd513a"/>
<rect x="381.7" y="1091.3" width="24.3" height="24.3" fill="#ee6a24"/>
<rect x="405.7" y="1091.3" width="24.3" height="24.3" fill="#fb9906"/>
<rect x="429.8" y="1091.3" width="24.3" height="24.3" fill="#f5db4c"/>
<rect x="453.8" y="1091.3" width="24.3" height="24.3" fill="#fcffa4"/>
<rect x="477.9" y="1091.3" width="24.3" height="24.3" fill="#fcffa4"/>
<rect x="501.9" y="1091.3" width="24.3" height="24.3" fill="#fcffa4"/>
<rect x="526.0" y="1091.3" width="24.3" height="24.3" fill="#fcffa4"/>
<rect x="550.0" y="1091.3" width="24.3" height="24.3" fill="#f5db4c"/>
<rect x="574.1" y="1091.3" width="24.3" height="24.3" fill="#f98c0a"/>
<rect x="598.1" y="1091.3" width="24.3" height="24.3" fill="#dd513a"/>
<rect x="405.7" y="1115.3" width="24.3" height="24.3" fill="#f3761b"/>
<rect x="429.8" y="1115.3" width="24.3" height="24.3" fill="#fbba1f"/>
<rect x="453.8" y="1115.3" width="24.3" height="24.3" fill="#fbba1f"/>
<rect x="477.9" y="1115.3" width="24.3" height="24.3" fill="#fbba1f"/>
<rect x="501.9" y="1115.3" width="24.3" height="24.3" fill="#f9c72f"/>
<rect x="526.0" y="1115.3" width="24.3" height="24.3" fill="#f5db4c"/>
<rect x="550.0" y="1115.3" width="24.3" height="24.3" fill="#fcffa4"/>
<rect x="574.1" y="1115.3" width="24.3" height="24.3" fill="#f9c72f"/>
<rect x="453.8" y="1139.3" width="24.3" height="24.3" fill="#e55c30"/>
<rect x="477.9" y="1139.3" width="24.3" height="24.3" fill="#d74b3f"/>
<rect x="501.9" y="1139.3" width="24.3" height="24.3" fill="#e55c30"/>
<rect x="526.0" y="1139.3" width="24.3" height="24.3" fill="#fc9f07"/>
<rect x="550.0" y="1139.3" width="24.3" height="24.3" fill="#fcffa4"/>
<rect x="574.1" y="1139.3" width="24.3" height="24.3" fill="#f4e156"/>
<rect x="501.9" y="1163.3" width="24.3" height="24.3" fill="#bc3754"/>
<rect x="526.0" y="1163.3" width="24.3" height="24.3" fill="#ef6e21"/>
<rect x="550.0" y="1163.3" width="24.3" height="24.3" fill="#fbba1f"/>
<rect x="550.0" y="1187.3" width="24.3" height="24.3" fill="#f57b17"/>
</g>
<rect x="19.7" y="682.3" width="675.9" height="529.4" fill="none" stroke="#a6a6a6" stroke-width="2.8"/>
<clipPath id="cb1"><rect x="21.0" y="1218.6" width="673.3" height="523.4"/></clipPath>
<rect x="21.0" y="1218.6" width="673.3" height="523.4" fill="#000"/>
<g clip-path="url(#cb1)">
<rect x="117.2" y="1262.3" width="24.3" height="24.3" fill="#f98c0a"/>
<rect x="141.2" y="1262.3" width="24.3" height="24.3" fill="#d74b3f"/>
<rect x="165.3" y="1262.3" width="24.3" height="24.3" fill="#7f1e6c"/>
<rect x="189.3" y="1262.3" width="24.3" height="24.3" fill="#0e092b"/>
<rect x="93.1" y="1286.3" width="24.3" height="24.3" fill="#fcac11"/>
<rect x="117.2" y="1286.3" width="24.3" height="24.3" fill="#f8cd37"/>
<rect x="141.2" y="1286.3" width="24.3" height="24.3" fill="#fcb418"/>
<rect x="165.3" y="1286.3" width="24.3" height="24.3" fill="#fcb418"/>
<rect x="189.3" y="1286.3" width="24.3" height="24.3" fill="#fb9906"/>
<rect x="213.4" y="1286.3" width="24.3" height="24.3" fill="#f78410"/>
<rect x="237.4" y="1286.3" width="24.3" height="24.3" fill="#bc3754"/>
<rect x="261.5" y="1286.3" width="24.3" height="24.3" fill="#1c0c43"/>
<rect x="93.1" y="1310.3" width="24.3" height="24.3" fill="#dd513a"/>
<rect x="117.2" y="1310.3" width="24.3" height="24.3" fill="#f3761b"/>
<rect x="141.2" y="1310.3" width="24.3" height="24.3" fill="#f98c0a"/>
<rect x="165.3" y="1310.3" width="24.3" height="24.3" fill="#fac026"/>
<rect x="189.3" y="1310.3" width="24.3" height="24.3" fill="#f1ed71"/>
<rect x="213.4" y="1310.3" width="24.3" height="24.3" fill="#f2f27d"/>
<rect x="237.4" y="1310.3" width="24.3" height="24.3" fill="#fcac11"/>
<rect x="261.5" y="1310.3" width="24.3" height="24.3" fill="#e55c30"/>
<rect x="285.5" y="1310.3" width="24.3" height="24.3" fill="#a82e5f"/>
<rect x="309.6" y="1310.3" width="24.3" height="24.3" fill="#420a68"/>
<rect x="69.1" y="1334.4" width="24.3" height="24.3" fill="#a02a63"/>
<rect x="93.1" y="1334.4" width="24.3" height="24.3" fill="#b0315b"/>
<rect x="117.2" y="1334.4" width="24.3" height="24.3" fill="#b73557"/>
<rect x="141.2" y="1334.4" width="24.3" height="24.3" fill="#bc3754"/>
<rect x="165.3" y="1334.4" width="24.3" height="24.3" fill="#dd513a"/>
<rect x="189.3" y="1334.4" width="24.3" height="24.3" fill="#f78410"/>
<rect x="213.4" y="1334.4" width="24.3" height="24.3" fill="#fac026"/>
<rect x="237.4" y="1334.4" width="24.3" height="24.3" fill="#f5db4c"/>
<rect x="261.5" y="1334.4" width="24.3" height="24.3" fill="#fcb418"/>
<rect x="285.5" y="1334.4" width="24.3" height="24.3" fill="#f1731d"/>
<rect x="309.6" y="1334.4" width="24.3" height="24.3" fill="#b0315b"/>
<rect x="333.6" y="1334.4" width="24.3" height="24.3" fill="#62146e"/>
<rect x="357.6" y="1334.4" width="24.3" height="24.3" fill="#0e092b"/>
<rect x="69.1" y="1358.4" width="24.3" height="24.3" fill="#160b39"/>
<rect x="93.1" y="1358.4" width="24.3" height="24.3" fill="#57106e"/>
<rect x="117.2" y="1358.4" width="24.3" height="24.3" fill="#57106e"/>
<rect x="141.2" y="1358.4" width="24.3" height="24.3" fill="#57106e"/>
<rect x="165.3" y="1358.4" width="24.3" height="24.3" fill="#932667"/>
<rect x="189.3" y="1358.4" width="24.3" height="24.3" fill="#cc4248"/>
<rect x="213.4" y="1358.4" width="24.3" height="24.3" fill="#ef6e21"/>
<rect x="237.4" y="1358.4" width="24.3" height="24.3" fill="#fcac11"/>
<rect x="261.5" y="1358.4" width="24.3" height="24.3" fill="#f1ed71"/>
<rect x="285.5" y="1358.4" width="24.3" height="24.3" fill="#f9c72f"/>
<rect x="309.6" y="1358.4" width="24.3" height="24.3" fill="#f3761b"/>
<rect x="333.6" y="1358.4" width="24.3" height="24.3" fill="#cc4248"/>
<rect x="357.6" y="1358.4" width="24.3" height="24.3" fill="#a02a63"/>
<rect x="381.7" y="1358.4" width="24.3" height="24.3" fill="#5f136e"/>
<rect x="405.7" y="1358.4" width="24.3" height="24.3" fill="#240c4f"/>
<rect x="93.1" y="1382.4" width="24.3" height="24.3" fill="#08051d"/>
<rect x="117.2" y="1382.4" width="24.3" height="24.3" fill="#0e092b"/>
<rect x="141.2" y="1382.4" width="24.3" height="24.3" fill="#08051d"/>
<rect x="165.3" y="1382.4" width="24.3" height="24.3" fill="#0e092b"/>
<rect x="189.3" y="1382.4" width="24.3" height="24.3" fill="#4f0d6c"/>
<rect x="213.4" y="1382.4" width="24.3" height="24.3" fill="#b3325a"/>
<rect x="237.4" y="1382.4" width="24.3" height="24.3" fill="#dd513a"/>
<rect x="261.5" y="1382.4" width="24.3" height="24.3" fill="#f98c0a"/>
<rect x="285.5" y="1382.4" width="24.3" height="24.3" fill="#f2e865"/>
<rect x="309.6" y="1382.4" width="24.3" height="24.3" fill="#f9c72f"/>
<rect x="333.6" y="1382.4" width="24.3" height="24.3" fill="#f68013"/>
<rect x="357.6" y="1382.4" width="24.3" height="24.3" fill="#f57b17"/>
<rect x="381.7" y="1382.4" width="24.3" height="24.3" fill="#e25734"/>
<rect x="405.7" y="1382.4" width="24.3" height="24.3" fill="#b3325a"/>
<rect x="429.8" y="1382.4" width="24.3" height="24.3" fill="#6a176e"/>
<rect x="453.8" y="1382.4" width="24.3" height="24.3" fill="#1c0c43"/>
<rect x="213.4" y="1406.4" width="24.3" height="24.3" fill="#420a68"/>
<rect x="237.4" y="1406.4" width="24.3" height="24.3" fill="#87216b"/>
<rect x="261.5" y="1406.4" width="24.3" height="24.3" fill="#c63d4d"/>
<rect x="285.5" y="1406.4" width="24.3" height="24.3" fill="#ee6a24"/>
<rect x="309.6" y="1406.4" width="24.3" height="24.3" fill="#fc9f07"/>
<rect x="333.6" y="1406.4" width="24.3" height="24.3" fill="#f2e865"/>
<rect x="357.6" y="1406.4" width="24.3" height="24.3" fill="#f2e865"/>
<rect x="381.7" y="1406.4" width="24.3" height="24.3" fill="#f8cd37"/>
<rect x="405.7" y="1406.4" width="24.3" height="24.3" fill="#fc9f07"/>
<rect x="429.8" y="1406.4" width="24.3" height="24.3" fill="#f3761b"/>
<rect x="453.8" y="1406.4" width="24.3" height="24.3" fill="#c63d4d"/>
<rect x="477.9" y="1406.4" width="24.3" height="24.3" fill="#771c6d"/>
<rect x="501.9" y="1406.4" width="24.3" height="24.3" fill="#0a0722"/>
<rect x="237.4" y="1430.5" width="24.3" height="24.3" fill="#0e092b"/>
<rect x="261.5" y="1430.5" width="24.3" height="24.3" fill="#420a68"/>
<rect x="285.5" y="1430.5" width="24.3" height="24.3" fill="#87216b"/>
<rect x="309.6" y="1430.5" width="24.3" height="24.3" fill="#b0315b"/>
<rect x="333.6" y="1430.5" width="24.3" height="24.3" fill="#e55c30"/>
<rect x="357.6" y="1430.5" width="24.3" height="24.3" fill="#f78410"/>
<rect x="381.7" y="1430.5" width="24.3" height="24.3" fill="#fcb418"/>
<rect x="405.7" y="1430.5" width="24.3" height="24.3" fill="#f1ed71"/>
<rect x="429.8" y="1430.5" width="24.3" height="24.3" fill="#f5f992"/>
<rect x="453.8" y="1430.5" width="24.3" height="24.3" fill="#f4e156"/>
<rect x="477.9" y="1430.5" width="24.3" height="24.3" fill="#f3761b"/>
<rect x="501.9" y="1430.5" width="24.3" height="24.3" fill="#b0315b"/>
<rect x="526.0" y="1430.5" width="24.3" height="24.3" fill="#4a0c6b"/>
<rect x="285.5" y="1454.5" width="24.3" height="24.3" fill="#240c4f"/>
<rect x="309.6" y="1454.5" width="24.3" height="24.3" fill="#420a68"/>
<rect x="333.6" y="1454.5" width="24.3" height="24.3" fill="#771c6d"/>
<rect x="357.6" y="1454.5" width="24.3" height="24.3" fill="#a02a63"/>
<rect x="381.7" y="1454.5" width="24.3" height="24.3" fill="#bc3754"/>
<rect x="405.7" y="1454.5" width="24.3" height="24.3" fill="#ea632a"/>
<rect x="429.8" y="1454.5" width="24.3" height="24.3" fill="#ef6e21"/>
<rect x="453.8" y="1454.5" width="24.3" height="24.3" fill="#f98c0a"/>
<rect x="477.9" y="1454.5" width="24.3" height="24.3" fill="#fcffa4"/>
<rect x="501.9" y="1454.5" width="24.3" height="24.3" fill="#fcb418"/>
<rect x="526.0" y="1454.5" width="24.3" height="24.3" fill="#e55c30"/>
<rect x="550.0" y="1454.5" width="24.3" height="24.3" fill="#7f1e6c"/>
<rect x="357.6" y="1478.5" width="24.3" height="24.3" fill="#040312"/>
<rect x="381.7" y="1478.5" width="24.3" height="24.3" fill="#4f0d6c"/>
<rect x="405.7" y="1478.5" width="24.3" height="24.3" fill="#6a176e"/>
<rect x="429.8" y="1478.5" width="24.3" height="24.3" fill="#a82e5f"/>
<rect x="453.8" y="1478.5" width="24.3" height="24.3" fill="#d34743"/>
<rect x="477.9" y="1478.5" width="24.3" height="24.3" fill="#f78410"/>
<rect x="501.9" y="1478.5" width="24.3" height="24.3" fill="#f8cd37"/>
<rect x="526.0" y="1478.5" width="24.3" height="24.3" fill="#f3f586"/>
<rect x="550.0" y="1478.5" width="24.3" height="24.3" fill="#fb9906"/>
<rect x="574.1" y="1478.5" width="24.3" height="24.3" fill="#a82e5f"/>
<rect x="405.7" y="1502.6" width="24.3" height="24.3" fill="#02020e"/>
<rect x="429.8" y="1502.6" width="24.3" height="24.3" fill="#02020e"/>
<rect x="453.8" y="1502.6" width="24.3" height="24.3" fill="#4f0d6c"/>
<rect x="477.9" y="1502.6" width="24.3" height="24.3" fill="#470b6a"/>
<rect x="501.9" y="1502.6" width="24.3" height="24.3" fill="#e55c30"/>
<rect x="526.0" y="1502.6" width="24.3" height="24.3" fill="#fb9906"/>
<rect x="550.0" y="1502.6" width="24.3" height="24.3" fill="#f8cd37"/>
<rect x="574.1" y="1502.6" width="24.3" height="24.3" fill="#f5db4c"/>
<rect x="598.1" y="1502.6" width="24.3" height="24.3" fill="#cc4248"/>
<rect x="622.2" y="1502.6" width="24.3" height="24.3" fill="#420a68"/>
<rect x="501.9" y="1526.6" width="24.3" height="24.3" fill="#87216b"/>
<rect x="526.0" y="1526.6" width="24.3" height="24.3" fill="#cc4248"/>
<rect x="550.0" y="1526.6" width="24.3" height="24.3" fill="#f1731d"/>
<rect x="574.1" y="1526.6" width="24.3" height="24.3" fill="#fcac11"/>
<rect x="598.1" y="1526.6" width="24.3" height="24.3" fill="#f1ed71"/>
<rect x="622.2" y="1526.6" width="24.3" height="24.3" fill="#f3761b"/>
<rect x="646.2" y="1526.6" width="24.3" height="24.3" fill="#7f1e6c"/>
<rect x="501.9" y="1550.6" width="24.3" height="24.3" fill="#08051d"/>
<rect x="526.0" y="1550.6" width="24.3" height="24.3" fill="#8f2469"/>
<rect x="550.0" y="1550.6" width="24.3" height="24.3" fill="#cc4248"/>
<rect x="574.1" y="1550.6" width="24.3" height="24.3" fill="#ea632a"/>
<rect x="598.1" y="1550.6" width="24.3" height="24.3" fill="#fb9906"/>
<rect x="622.2" y="1550.6" width="24.3" height="24.3" fill="#f1ed71"/>
<rect x="646.2" y="1550.6" width="24.3" height="24.3" fill="#f98c0a"/>
<rect x="526.0" y="1574.7" width="24.3" height="24.3" fill="#240c4f"/>
<rect x="550.0" y="1574.7" width="24.3" height="24.3" fill="#8f2469"/>
<rect x="574.1" y="1574.7" width="24.3" height="24.3" fill="#b0315b"/>
<rect x="598.1" y="1574.7" width="24.3" height="24.3" fill="#cc4248"/>
<rect x="622.2" y="1574.7" width="24.3" height="24.3" fill="#f57b17"/>
<rect x="526.0" y="1598.7" width="24.3" height="24.3" fill="#02010a"/>
<rect x="550.0" y="1598.7" width="24.3" height="24.3" fill="#57106e"/>
<rect x="574.1" y="1598.7" width="24.3" height="24.3" fill="#87216b"/>
<rect x="598.1" y="1598.7" width="24.3" height="24.3" fill="#8f2469"/>
<rect x="622.2" y="1598.7" width="24.3" height="24.3" fill="#bc3754"/>
<rect x="550.0" y="1622.7" width="24.3" height="24.3" fill="#140b34"/>
<rect x="574.1" y="1622.7" width="24.3" height="24.3" fill="#5f136e"/>
<rect x="598.1" y="1622.7" width="24.3" height="24.3" fill="#8f2469"/>
<rect x="574.1" y="1646.7" width="24.3" height="24.3" fill="#2b0b57"/>
<rect x="574.1" y="1670.8" width="24.3" height="24.3" fill="#0e092b"/>
</g>
<rect x="19.7" y="1217.3" width="675.9" height="526.0" fill="none" stroke="#a6a6a6" stroke-width="2.8"/>
<clipPath id="cb2"><rect x="21.0" y="1749.8" width="673.3" height="527.0"/></clipPath>
<rect x="21.0" y="1749.8" width="673.3" height="527.0" fill="#000"/>
<g clip-path="url(#cb2)">
<rect x="141.2" y="1749.3" width="24.3" height="24.3" fill="#fcffa4"/>
<rect x="165.3" y="1749.3" width="24.3" height="24.3" fill="#fcffa4"/>
<rect x="117.2" y="1773.3" width="24.3" height="24.3" fill="#f78410"/>
<rect x="141.2" y="1773.3" width="24.3" height="24.3" fill="#fcb418"/>
<rect x="165.3" y="1773.3" width="24.3" height="24.3" fill="#f2e865"/>
<rect x="189.3" y="1773.3" width="24.3" height="24.3" fill="#fcffa4"/>
<rect x="213.4" y="1773.3" width="24.3" height="24.3" fill="#fcffa4"/>
<rect x="117.2" y="1797.3" width="24.3" height="24.3" fill="#420a68"/>
<rect x="141.2" y="1797.3" width="24.3" height="24.3" fill="#771c6d"/>
<rect x="165.3" y="1797.3" width="24.3" height="24.3" fill="#b3325a"/>
<rect x="189.3" y="1797.3" width="24.3" height="24.3" fill="#ea632a"/>
<rect x="213.4" y="1797.3" width="24.3" height="24.3" fill="#fc9f07"/>
<rect x="237.4" y="1797.3" width="24.3" height="24.3" fill="#fcffa4"/>
<rect x="261.5" y="1797.3" width="24.3" height="24.3" fill="#fcffa4"/>
<rect x="93.1" y="1821.3" width="24.3" height="24.3" fill="#040312"/>
<rect x="141.2" y="1821.3" width="24.3" height="24.3" fill="#0e092b"/>
<rect x="165.3" y="1821.3" width="24.3" height="24.3" fill="#1f0c48"/>
<rect x="189.3" y="1821.3" width="24.3" height="24.3" fill="#4f0d6c"/>
<rect x="213.4" y="1821.3" width="24.3" height="24.3" fill="#5f136e"/>
<rect x="237.4" y="1821.3" width="24.3" height="24.3" fill="#b3325a"/>
<rect x="261.5" y="1821.3" width="24.3" height="24.3" fill="#fb9906"/>
<rect x="285.5" y="1821.3" width="24.3" height="24.3" fill="#f2f27d"/>
<rect x="309.6" y="1821.3" width="24.3" height="24.3" fill="#fcffa4"/>
<rect x="93.1" y="1845.3" width="24.3" height="24.3" fill="#040312"/>
<rect x="213.4" y="1845.3" width="24.3" height="24.3" fill="#050417"/>
<rect x="237.4" y="1845.3" width="24.3" height="24.3" fill="#470b6a"/>
<rect x="261.5" y="1845.3" width="24.3" height="24.3" fill="#87216b"/>
<rect x="285.5" y="1845.3" width="24.3" height="24.3" fill="#bc3754"/>
<rect x="309.6" y="1845.3" width="24.3" height="24.3" fill="#fb9906"/>
<rect x="333.6" y="1845.3" width="24.3" height="24.3" fill="#f8fb9a"/>
<rect x="357.6" y="1845.3" width="24.3" height="24.3" fill="#fcffa4"/>
<rect x="117.2" y="1869.3" width="24.3" height="24.3" fill="#050417"/>
<rect x="141.2" y="1869.3" width="24.3" height="24.3" fill="#0e092b"/>
<rect x="165.3" y="1869.3" width="24.3" height="24.3" fill="#060419"/>
<rect x="189.3" y="1869.3" width="24.3" height="24.3" fill="#040312"/>
<rect x="213.4" y="1869.3" width="24.3" height="24.3" fill="#02020e"/>
<rect x="237.4" y="1869.3" width="24.3" height="24.3" fill="#0a0722"/>
<rect x="261.5" y="1869.3" width="24.3" height="24.3" fill="#340a5f"/>
<rect x="285.5" y="1869.3" width="24.3" height="24.3" fill="#67166e"/>
<rect x="309.6" y="1869.3" width="24.3" height="24.3" fill="#bc3754"/>
<rect x="333.6" y="1869.3" width="24.3" height="24.3" fill="#ea632a"/>
<rect x="357.6" y="1869.3" width="24.3" height="24.3" fill="#f8cd37"/>
<rect x="381.7" y="1869.3" width="24.3" height="24.3" fill="#fcffa4"/>
<rect x="405.7" y="1869.3" width="24.3" height="24.3" fill="#fcffa4"/>
<rect x="69.1" y="1893.3" width="24.3" height="24.3" fill="#2b0b57"/>
<rect x="93.1" y="1893.3" width="24.3" height="24.3" fill="#140b34"/>
<rect x="117.2" y="1893.3" width="24.3" height="24.3" fill="#1c0c43"/>
<rect x="141.2" y="1893.3" width="24.3" height="24.3" fill="#240c4f"/>
<rect x="165.3" y="1893.3" width="24.3" height="24.3" fill="#0e092b"/>
<rect x="189.3" y="1893.3" width="24.3" height="24.3" fill="#050417"/>
<rect x="237.4" y="1893.3" width="24.3" height="24.3" fill="#02020e"/>
<rect x="261.5" y="1893.3" width="24.3" height="24.3" fill="#02010a"/>
<rect x="285.5" y="1893.3" width="24.3" height="24.3" fill="#140b34"/>
<rect x="309.6" y="1893.3" width="24.3" height="24.3" fill="#67166e"/>
<rect x="333.6" y="1893.3" width="24.3" height="24.3" fill="#a02a63"/>
<rect x="357.6" y="1893.3" width="24.3" height="24.3" fill="#cc4248"/>
<rect x="381.7" y="1893.3" width="24.3" height="24.3" fill="#ef6e21"/>
<rect x="405.7" y="1893.3" width="24.3" height="24.3" fill="#fcb418"/>
<rect x="429.8" y="1893.3" width="24.3" height="24.3" fill="#fcffa4"/>
<rect x="453.8" y="1893.3" width="24.3" height="24.3" fill="#fcffa4"/>
<rect x="45.0" y="1917.3" width="24.3" height="24.3" fill="#140b34"/>
<rect x="69.1" y="1917.3" width="24.3" height="24.3" fill="#240c4f"/>
<rect x="93.1" y="1917.3" width="24.3" height="24.3" fill="#230c4c"/>
<rect x="117.2" y="1917.3" width="24.3" height="24.3" fill="#230c4c"/>
<rect x="141.2" y="1917.3" width="24.3" height="24.3" fill="#3d0965"/>
<rect x="165.3" y="1917.3" width="24.3" height="24.3" fill="#3d0965"/>
<rect x="189.3" y="1917.3" width="24.3" height="24.3" fill="#1f0c48"/>
<rect x="213.4" y="1917.3" width="24.3" height="24.3" fill="#02020e"/>
<rect x="237.4" y="1917.3" width="24.3" height="24.3" fill="#02020e"/>
<rect x="309.6" y="1917.3" width="24.3" height="24.3" fill="#140b34"/>
<rect x="333.6" y="1917.3" width="24.3" height="24.3" fill="#57106e"/>
<rect x="357.6" y="1917.3" width="24.3" height="24.3" fill="#57106e"/>
<rect x="381.7" y="1917.3" width="24.3" height="24.3" fill="#7f1e6c"/>
<rect x="405.7" y="1917.3" width="24.3" height="24.3" fill="#b3325a"/>
<rect x="429.8" y="1917.3" width="24.3" height="24.3" fill="#ea632a"/>
<rect x="453.8" y="1917.3" width="24.3" height="24.3" fill="#fac026"/>
<rect x="477.9" y="1917.3" width="24.3" height="24.3" fill="#fcffa4"/>
<rect x="501.9" y="1917.3" width="24.3" height="24.3" fill="#fcffa4"/>
<rect x="45.0" y="1941.3" width="24.3" height="24.3" fill="#060419"/>
<rect x="69.1" y="1941.3" width="24.3" height="24.3" fill="#0e092b"/>
<rect x="93.1" y="1941.3" width="24.3" height="24.3" fill="#160b39"/>
<rect x="117.2" y="1941.3" width="24.3" height="24.3" fill="#1f0c48"/>
<rect x="141.2" y="1941.3" width="24.3" height="24.3" fill="#2b0b57"/>
<rect x="165.3" y="1941.3" width="24.3" height="24.3" fill="#3d0965"/>
<rect x="189.3" y="1941.3" width="24.3" height="24.3" fill="#470b6a"/>
<rect x="213.4" y="1941.3" width="24.3" height="24.3" fill="#190c3e"/>
<rect x="237.4" y="1941.3" width="24.3" height="24.3" fill="#050417"/>
<rect x="309.6" y="1941.3" width="24.3" height="24.3" fill="#040312"/>
<rect x="333.6" y="1941.3" width="24.3" height="24.3" fill="#02020e"/>
<rect x="357.6" y="1941.3" width="24.3" height="24.3" fill="#040312"/>
<rect x="381.7" y="1941.3" width="24.3" height="24.3" fill="#140b34"/>
<rect x="405.7" y="1941.3" width="24.3" height="24.3" fill="#470b6a"/>
<rect x="429.8" y="1941.3" width="24.3" height="24.3" fill="#6f196e"/>
<rect x="453.8" y="1941.3" width="24.3" height="24.3" fill="#b0315b"/>
<rect x="477.9" y="1941.3" width="24.3" height="24.3" fill="#ea632a"/>
<rect x="501.9" y="1941.3" width="24.3" height="24.3" fill="#f2f27d"/>
<rect x="526.0" y="1941.3" width="24.3" height="24.3" fill="#fcffa4"/>
<rect x="550.0" y="1941.3" width="24.3" height="24.3" fill="#fcffa4"/>
<rect x="93.1" y="1965.3" width="24.3" height="24.3" fill="#040312"/>
<rect x="117.2" y="1965.3" width="24.3" height="24.3" fill="#040312"/>
<rect x="141.2" y="1965.3" width="24.3" height="24.3" fill="#08051d"/>
<rect x="165.3" y="1965.3" width="24.3" height="24.3" fill="#0c0826"/>
<rect x="189.3" y="1965.3" width="24.3" height="24.3" fill="#190c3e"/>
<rect x="213.4" y="1965.3" width="24.3" height="24.3" fill="#190c3e"/>
<rect x="237.4" y="1965.3" width="24.3" height="24.3" fill="#140b34"/>
<rect x="261.5" y="1965.3" width="24.3" height="24.3" fill="#0e092b"/>
<rect x="309.6" y="1965.3" width="24.3" height="24.3" fill="#040312"/>
<rect x="453.8" y="1965.3" width="24.3" height="24.3" fill="#0e092b"/>
<rect x="477.9" y="1965.3" width="24.3" height="24.3" fill="#6f196e"/>
<rect x="501.9" y="1965.3" width="24.3" height="24.3" fill="#c63d4d"/>
<rect x="526.0" y="1965.3" width="24.3" height="24.3" fill="#fb9906"/>
<rect x="550.0" y="1965.3" width="24.3" height="24.3" fill="#fcffa4"/>
<rect x="574.1" y="1965.3" width="24.3" height="24.3" fill="#fcffa4"/>
<rect x="598.1" y="1965.3" width="24.3" height="24.3" fill="#fcffa4"/>
<rect x="189.3" y="1989.3" width="24.3" height="24.3" fill="#02010a"/>
<rect x="213.4" y="1989.3" width="24.3" height="24.3" fill="#02020e"/>
<rect x="261.5" y="1989.3" width="24.3" height="24.3" fill="#060419"/>
<rect x="309.6" y="1989.3" width="24.3" height="24.3" fill="#040312"/>
<rect x="381.7" y="1989.3" width="24.3" height="24.3" fill="#02020e"/>
<rect x="501.9" y="1989.3" width="24.3" height="24.3" fill="#470b6a"/>
<rect x="526.0" y="1989.3" width="24.3" height="24.3" fill="#8f2469"/>
<rect x="550.0" y="1989.3" width="24.3" height="24.3" fill="#ea632a"/>
<rect x="574.1" y="1989.3" width="24.3" height="24.3" fill="#fcffa4"/>
<rect x="598.1" y="1989.3" width="24.3" height="24.3" fill="#fcffa4"/>
<rect x="622.2" y="1989.3" width="24.3" height="24.3" fill="#fcffa4"/>
<rect x="381.7" y="2013.3" width="24.3" height="24.3" fill="#02010a"/>
<rect x="405.7" y="2013.3" width="24.3" height="24.3" fill="#040312"/>
<rect x="477.9" y="2013.3" width="24.3" height="24.3" fill="#02020e"/>
<rect x="526.0" y="2013.3" width="24.3" height="24.3" fill="#040312"/>
<rect x="550.0" y="2013.3" width="24.3" height="24.3" fill="#57106e"/>
<rect x="574.1" y="2013.3" width="24.3" height="24.3" fill="#c63d4d"/>
<rect x="598.1" y="2013.3" width="24.3" height="24.3" fill="#f2f27d"/>
<rect x="622.2" y="2013.3" width="24.3" height="24.3" fill="#fcffa4"/>
<rect x="646.2" y="2013.3" width="24.3" height="24.3" fill="#fcffa4"/>
<rect x="670.3" y="2013.3" width="24.3" height="24.3" fill="#fcffa4"/>
<rect x="405.7" y="2037.3" width="24.3" height="24.3" fill="#08051d"/>
<rect x="429.8" y="2037.3" width="24.3" height="24.3" fill="#230c4c"/>
<rect x="453.8" y="2037.3" width="24.3" height="24.3" fill="#140b34"/>
<rect x="477.9" y="2037.3" width="24.3" height="24.3" fill="#470b6a"/>
<rect x="574.1" y="2037.3" width="24.3" height="24.3" fill="#140b34"/>
<rect x="598.1" y="2037.3" width="24.3" height="24.3" fill="#a02a63"/>
<rect x="622.2" y="2037.3" width="24.3" height="24.3" fill="#fb9906"/>
<rect x="646.2" y="2037.3" width="24.3" height="24.3" fill="#fcffa4"/>
<rect x="670.3" y="2037.3" width="24.3" height="24.3" fill="#fcffa4"/>
<rect x="429.8" y="2061.3" width="24.3" height="24.3" fill="#0a0722"/>
<rect x="453.8" y="2061.3" width="24.3" height="24.3" fill="#2b0b57"/>
<rect x="477.9" y="2061.3" width="24.3" height="24.3" fill="#4a0c6b"/>
<rect x="501.9" y="2061.3" width="24.3" height="24.3" fill="#050417"/>
<rect x="598.1" y="2061.3" width="24.3" height="24.3" fill="#050417"/>
<rect x="622.2" y="2061.3" width="24.3" height="24.3" fill="#7f1e6c"/>
<rect x="646.2" y="2061.3" width="24.3" height="24.3" fill="#e05536"/>
<rect x="429.8" y="2085.3" width="24.3" height="24.3" fill="#040312"/>
<rect x="453.8" y="2085.3" width="24.3" height="24.3" fill="#0a0722"/>
<rect x="477.9" y="2085.3" width="24.3" height="24.3" fill="#1f0c48"/>
<rect x="501.9" y="2085.3" width="24.3" height="24.3" fill="#1f0c48"/>
<rect x="526.0" y="2085.3" width="24.3" height="24.3" fill="#02020e"/>
<rect x="646.2" y="2085.3" width="24.3" height="24.3" fill="#62146e"/>
<rect x="453.8" y="2109.3" width="24.3" height="24.3" fill="#040312"/>
<rect x="477.9" y="2109.3" width="24.3" height="24.3" fill="#0e092b"/>
<rect x="501.9" y="2109.3" width="24.3" height="24.3" fill="#0e092b"/>
<rect x="526.0" y="2109.3" width="24.3" height="24.3" fill="#0a0722"/>
<rect x="453.8" y="2133.3" width="24.3" height="24.3" fill="#02020e"/>
<rect x="477.9" y="2133.3" width="24.3" height="24.3" fill="#040312"/>
<rect x="501.9" y="2133.3" width="24.3" height="24.3" fill="#040312"/>
<rect x="526.0" y="2133.3" width="24.3" height="24.3" fill="#050417"/>
</g>
<rect x="19.7" y="1748.5" width="675.9" height="529.6" fill="none" stroke="#a6a6a6" stroke-width="2.8"/>
</g>
<g fill="#fff" font-weight="bold">
<text x="29" y="742" font-size="61">B</text>
<text x="467" y="770.5" font-size="42.6">Water</text>
<text x="669" y="1176" font-size="61" text-anchor="end">1</text>
<text x="416.5" y="1303.6" font-size="43.3">Wet sand</text>
<text x="667.5" y="1723" font-size="61" text-anchor="end">2</text>
<text x="441" y="1836" font-size="43.3">Dry sand</text>
<text x="677.5" y="2260" font-size="61" text-anchor="end">3</text>
</g>
<rect x="726.5" y="685.3" width="79.0" height="1592.7" fill="url(#inf)"/>
<rect x="725.5" y="684.3" width="81.0" height="1594.7" fill="none" stroke="#8c8c8c" stroke-width="2"/>
<line x1="806.5" x2="817.5" y1="2279.0" y2="2279.0" stroke="#8a8a8a" stroke-width="1.8"/>
<text x="827" y="2291.5" font-size="32.5" fill="#808080">0.0</text>
<line x1="806.5" x2="817.5" y1="1960.1" y2="1960.1" stroke="#8a8a8a" stroke-width="1.8"/>
<text x="827" y="1972.6" font-size="32.5" fill="#808080">0.2</text>
<line x1="806.5" x2="817.5" y1="1641.1" y2="1641.1" stroke="#8a8a8a" stroke-width="1.8"/>
<text x="827" y="1653.6" font-size="32.5" fill="#808080">0.4</text>
<line x1="806.5" x2="817.5" y1="1322.2" y2="1322.2" stroke="#8a8a8a" stroke-width="1.8"/>
<text x="827" y="1334.7" font-size="32.5" fill="#808080">0.6</text>
<line x1="806.5" x2="817.5" y1="1003.2" y2="1003.2" stroke="#8a8a8a" stroke-width="1.8"/>
<text x="827" y="1015.7" font-size="32.5" fill="#808080">0.8</text>
<line x1="806.5" x2="817.5" y1="684.3" y2="684.3" stroke="#8a8a8a" stroke-width="1.8"/>
<text x="827" y="696.8" font-size="32.5" fill="#808080">1.0</text>
<text transform="translate(918 1489) rotate(-90)" font-size="43" text-anchor="middle" fill="#808080">Fraction</text>
<clipPath id="cc0"><rect x="0" y="0" width="662.0" height="534.3"/></clipPath>
<clipPath id="co0"><polygon points="117.7,0.0 163.9,0.0 163.9,20.9 212.1,20.9 212.1,45.0 260.3,45.0 260.3,69.9 307.4,69.9 307.4,95.2 354.8,95.2 354.8,119.3 401.0,119.3 401.0,143.4 448.4,143.4 448.4,168.3 496.6,168.3 496.6,192.8 543.6,192.8 543.6,217.8 591.0,217.8 591.0,241.9 614.7,241.9 614.7,266.8 662.1,266.8 662.1,313.4 638.8,313.4 638.8,360.4 614.7,360.4 611.9,398.6 589.8,410.6 589.8,434.7 565.7,442.7 565.7,482.9 543.6,491.0 541.6,525.1 525.5,525.1 521.5,503.0 509.4,495.0 485.3,493.0 485.3,486.9 509.4,482.9 501.4,468.9 433.1,468.9 429.1,462.8 441.1,450.8 413.0,450.8 388.9,446.8 382.9,438.7 392.9,430.7 392.9,422.7 344.7,422.7 342.7,414.6 352.8,406.6 348.7,394.5 296.5,398.6 294.5,390.5 304.5,382.5 300.5,334.3 348.7,334.3 344.7,322.2 340.7,302.1 308.6,298.1 159.9,298.1 103.7,298.1 103.7,292.1 115.7,286.1 123.7,280.0 77.5,278.0 73.5,262.0 27.3,253.9 27.3,243.9 35.4,233.8 1.2,229.8 1.2,205.7 27.3,197.7 27.3,169.5 47.4,169.5 47.4,119.3 73.5,119.3 73.5,71.1 95.6,71.1 95.6,45.0 103.7,20.9 117.7,20.9"/></clipPath>
<g transform="translate(963.0 679.3)">
<rect width="662.0" height="534.3" fill="#000"/>
<g clip-path="url(#cc0)">
<polygon points="117.7,0.0 163.9,0.0 163.9,20.9 212.1,20.9 212.1,45.0 260.3,45.0 260.3,69.9 307.4,69.9 307.4,95.2 354.8,95.2 354.8,119.3 401.0,119.3 401.0,143.4 448.4,143.4 448.4,168.3 496.6,168.3 496.6,192.8 543.6,192.8 543.6,217.8 591.0,217.8 591.0,241.9 614.7,241.9 614.7,266.8 662.1,266.8 662.1,313.4 638.8,313.4 638.8,360.4 614.7,360.4 611.9,398.6 589.8,410.6 589.8,434.7 565.7,442.7 565.7,482.9 543.6,491.0 541.6,525.1 525.5,525.1 521.5,503.0 509.4,495.0 485.3,493.0 485.3,486.9 509.4,482.9 501.4,468.9 433.1,468.9 429.1,462.8 441.1,450.8 413.0,450.8 388.9,446.8 382.9,438.7 392.9,430.7 392.9,422.7 344.7,422.7 342.7,414.6 352.8,406.6 348.7,394.5 296.5,398.6 294.5,390.5 304.5,382.5 300.5,334.3 348.7,334.3 344.7,322.2 340.7,302.1 308.6,298.1 159.9,298.1 103.7,298.1 103.7,292.1 115.7,286.1 123.7,280.0 77.5,278.0 73.5,262.0 27.3,253.9 27.3,243.9 35.4,233.8 1.2,229.8 1.2,205.7 27.3,197.7 27.3,169.5 47.4,169.5 47.4,119.3 73.5,119.3 73.5,71.1 95.6,71.1 95.6,45.0 103.7,20.9 117.7,20.9" fill="url(#pWatL)"/>
<g clip-path="url(#co0)">
<polygon points="-20.0,250.0 200.0,230.0 420.0,330.0 520.0,360.0 682.0,600.0 682.0,554.3 -20.0,554.3" fill="url(#pWat)"/>
<polygon points="-20.0,122.1 73.0,122.1 130.0,124.9 133.8,133.4 156.5,127.8 179.3,137.4 186.8,150.7 205.9,158.3 224.9,160.1 226.8,171.6 247.6,182.8 249.5,192.4 253.3,201.7 278.0,205.7 281.6,218.6 311.4,225.8 324.6,229.4 345.5,235.0 349.1,248.3 385.3,250.3 409.8,255.9 411.8,265.6 440.3,267.6 446.0,274.8 463.2,286.5 489.8,299.7 509.4,312.2 526.7,324.2 549.6,340.3 564.9,352.4 583.8,371.2 589.4,390.5 612.3,392.1 682.0,392.1 682.0,-20.0 -20.0,-20.0" fill="url(#pWetB)"/>
<polygon points="-20.0,44.2 99.6,44.2 110.9,46.2 118.5,38.6 130.0,38.6 133.8,50.1 167.9,55.8 177.4,65.1 198.3,67.1 202.1,72.7 224.9,74.7 232.4,86.0 247.5,90.0 251.4,99.2 278.0,103.3 281.6,114.5 296.9,116.5 300.8,133.4 316.0,137.4 319.7,150.7 337.1,152.5 349.3,155.5 366.4,157.5 375.9,164.9 394.9,166.7 404.3,178.2 432.7,184.0 436.6,199.1 470.8,210.5 474.5,225.7 507.8,227.4 511.9,249.9 542.0,251.9 544.0,265.2 564.9,284.0 585.8,300.1 606.7,314.6 633.2,325.8 638.8,327.0 682.0,327.0 682.0,-20.0 -20.0,-20.0" fill="url(#pDry)"/>
</g>
<g clip-path="url(#co0)"><rect x="118.5" y="39.8" width="9.6" height="5.6" fill="#33b8ec"/><rect x="92.0" y="106.1" width="62.7" height="10.4" fill="#33b8ec"/><rect x="99.6" y="116.5" width="16.1" height="5.6" fill="#33b8ec"/><rect x="127.8" y="115.3" width="20.1" height="6.8" fill="#33b8ec"/><rect x="95.6" y="72.7" width="7.6" height="13.3" fill="#33b8ec"/><rect x="133.8" y="72.7" width="11.2" height="13.3" fill="#33b8ec"/><rect x="145.0" y="57.5" width="15.3" height="7.6" fill="#33b8ec"/><rect x="171.6" y="63.5" width="26.5" height="7.2" fill="#33b8ec"/><rect x="133.8" y="51.8" width="7.6" height="9.6" fill="#33b8ec"/><rect x="192.4" y="133.4" width="9.6" height="11.7" fill="#33b8ec"/><rect x="241.9" y="88.8" width="5.6" height="5.6" fill="#33b8ec"/><rect x="209.7" y="154.3" width="15.3" height="13.3" fill="#33b8ec"/><rect x="285.7" y="207.7" width="13.3" height="9.2" fill="#33b8ec"/><rect x="350.7" y="226.6" width="12.1" height="8.0" fill="#33b8ec"/><rect x="358.8" y="233.8" width="12.1" height="8.8" fill="#33b8ec"/><rect x="469.3" y="276.0" width="12.9" height="10.0" fill="#33b8ec"/><rect x="516.7" y="300.1" width="12.9" height="10.8" fill="#33b8ec"/><rect x="73.5" y="122.1" width="14.1" height="19.3" fill="#33b8ec"/><rect x="73.5" y="73.1" width="8.0" height="46.2" fill="#33b8ec"/><rect x="50.2" y="122.1" width="4.0" height="5.6" fill="#7fffd4"/><rect x="47.4" y="145.0" width="5.6" height="11.2" fill="#7fffd4"/><rect x="81.6" y="146.6" width="8.4" height="9.6" fill="#7fffd4"/><rect x="105.3" y="148.7" width="7.6" height="7.6" fill="#7fffd4"/><rect x="129.0" y="146.6" width="12.5" height="9.6" fill="#7fffd4"/><rect x="29.3" y="169.5" width="4.8" height="5.6" fill="#7fffd4"/><rect x="46.6" y="173.6" width="5.6" height="7.2" fill="#7fffd4"/><rect x="81.6" y="172.4" width="5.6" height="7.6" fill="#7fffd4"/><rect x="104.5" y="172.4" width="6.4" height="7.6" fill="#7fffd4"/><rect x="129.0" y="169.5" width="5.6" height="10.4" fill="#7fffd4"/><rect x="152.7" y="169.5" width="11.2" height="11.2" fill="#7fffd4"/><rect x="173.6" y="169.5" width="11.2" height="9.6" fill="#7fffd4"/><rect x="205.7" y="165.9" width="9.6" height="9.2" fill="#7fffd4"/><rect x="57.9" y="198.1" width="5.6" height="7.6" fill="#7fffd4"/><rect x="105.3" y="198.1" width="7.6" height="7.6" fill="#7fffd4"/><rect x="124.1" y="197.3" width="9.6" height="8.4" fill="#7fffd4"/><rect x="147.0" y="197.3" width="11.2" height="8.4" fill="#7fffd4"/><rect x="205.7" y="196.1" width="7.6" height="9.6" fill="#7fffd4"/><rect x="177.6" y="192.4" width="5.6" height="7.6" fill="#7fffd4"/><rect x="200.1" y="217.0" width="5.6" height="7.6" fill="#7fffd4"/><rect x="241.9" y="217.0" width="7.6" height="6.8" fill="#7fffd4"/><rect x="152.7" y="222.6" width="5.6" height="6.0" fill="#7fffd4"/><rect x="228.6" y="223.8" width="5.6" height="5.6" fill="#7fffd4"/><rect x="319.8" y="245.5" width="7.6" height="5.6" fill="#7fffd4"/><rect x="390.9" y="290.1" width="6.0" height="6.0" fill="#7fffd4"/><rect x="423.1" y="288.1" width="6.0" height="6.0" fill="#7fffd4"/><rect x="461.2" y="290.1" width="6.0" height="8.0" fill="#7fffd4"/><rect x="413.0" y="322.2" width="8.0" height="8.0" fill="#7fffd4"/><rect x="437.1" y="316.2" width="8.0" height="10.0" fill="#7fffd4"/><rect x="461.2" y="368.4" width="8.0" height="6.0" fill="#7fffd4"/><rect x="485.3" y="364.4" width="8.0" height="8.0" fill="#7fffd4"/><rect x="529.5" y="366.4" width="16.1" height="6.0" fill="#7fffd4"/><rect x="553.6" y="366.4" width="16.1" height="6.0" fill="#7fffd4"/><rect x="509.4" y="338.3" width="16.1" height="8.8" fill="#7fffd4"/><rect x="589.8" y="390.5" width="18.1" height="6.0" fill="#7fffd4"/><rect x="581.8" y="422.7" width="6.0" height="10.0" fill="#7fffd4"/></g>
<polygon points="117.7,0.0 163.9,0.0 163.9,20.9 212.1,20.9 212.1,45.0 260.3,45.0 260.3,69.9 307.4,69.9 307.4,95.2 354.8,95.2 354.8,119.3 401.0,119.3 401.0,143.4 448.4,143.4 448.4,168.3 496.6,168.3 496.6,192.8 543.6,192.8 543.6,217.8 591.0,217.8 591.0,241.9 614.7,241.9 614.7,266.8 662.1,266.8 662.1,313.4 638.8,313.4 638.8,360.4 614.7,360.4 611.9,398.6 589.8,410.6 589.8,434.7 565.7,442.7 565.7,482.9 543.6,491.0 541.6,525.1 525.5,525.1 521.5,503.0 509.4,495.0 485.3,493.0 485.3,486.9 509.4,482.9 501.4,468.9 433.1,468.9 429.1,462.8 441.1,450.8 413.0,450.8 388.9,446.8 382.9,438.7 392.9,430.7 392.9,422.7 344.7,422.7 342.7,414.6 352.8,406.6 348.7,394.5 296.5,398.6 294.5,390.5 304.5,382.5 300.5,334.3 348.7,334.3 344.7,322.2 340.7,302.1 308.6,298.1 159.9,298.1 103.7,298.1 103.7,292.1 115.7,286.1 123.7,280.0 77.5,278.0 73.5,262.0 27.3,253.9 27.3,243.9 35.4,233.8 1.2,229.8 1.2,205.7 27.3,197.7 27.3,169.5 47.4,169.5 47.4,119.3 73.5,119.3 73.5,71.1 95.6,71.1 95.6,45.0 103.7,20.9 117.7,20.9" fill="none" stroke="#33b8ec" stroke-width="2" stroke-opacity="0.85"/>
<rect x="51.4" y="197.7" width="10.0" height="12.1" fill="#000"/>
<rect x="71.5" y="197.7" width="10.0" height="12.1" fill="#000"/>
<rect x="125.8" y="219.8" width="14.1" height="12.1" fill="#000"/>
<rect x="141.8" y="219.8" width="10.0" height="10.0" fill="#000"/>
<rect x="49.4" y="226.6" width="12.1" height="13.3" fill="#000"/>
<rect x="78.7" y="226.6" width="12.1" height="11.2" fill="#000"/>
<rect x="101.6" y="226.6" width="12.1" height="13.3" fill="#000"/>
<rect x="97.6" y="251.9" width="12.1" height="16.1" fill="#000"/>
<rect x="119.7" y="251.9" width="12.9" height="12.1" fill="#000"/>
<rect x="143.8" y="250.7" width="12.1" height="13.3" fill="#000"/>
<rect x="167.1" y="250.7" width="12.9" height="13.3" fill="#000"/>
<rect x="145.8" y="276.0" width="12.1" height="18.1" fill="#000"/>
<rect x="165.9" y="278.0" width="18.1" height="16.1" fill="#000"/>
<rect x="192.0" y="278.0" width="20.1" height="16.1" fill="#000"/>
<rect x="214.1" y="278.0" width="24.1" height="16.1" fill="#000"/>
<rect x="240.3" y="278.0" width="16.1" height="16.1" fill="#000"/>
<rect x="262.4" y="274.0" width="12.1" height="14.1" fill="#000"/>
<rect x="286.5" y="274.0" width="14.1" height="14.1" fill="#000"/>
<rect x="309.8" y="268.0" width="12.9" height="13.3" fill="#000"/>
<rect x="356.8" y="366.4" width="22.1" height="18.1" fill="#000"/>
<rect x="382.9" y="366.4" width="10.0" height="18.1" fill="#000"/>
<rect x="350.7" y="394.5" width="22.1" height="16.1" fill="#000"/>
<rect x="382.9" y="390.5" width="10.0" height="18.1" fill="#000"/>
<rect x="405.0" y="396.5" width="12.1" height="14.1" fill="#000"/>
<rect x="405.0" y="422.7" width="12.1" height="12.1" fill="#000"/>
<rect x="302.5" y="344.3" width="66.3" height="12.1" fill="#000"/>
<rect x="304.5" y="366.4" width="44.2" height="16.1" fill="#000"/>
<rect x="441.1" y="452.8" width="10.0" height="10.0" fill="#000"/>
<rect x="455.2" y="452.8" width="16.1" height="10.0" fill="#000"/>
<rect x="475.3" y="452.8" width="12.1" height="10.0" fill="#000"/>
<rect x="501.4" y="452.8" width="10.0" height="10.0" fill="#000"/>
<rect x="159.9" y="298.1" width="6.0" height="24.1" fill="#33b8ec"/>
<rect x="151.9" y="318.2" width="196.9" height="4.8" fill="#33b8ec"/>
<rect x="200.1" y="342.3" width="8.0" height="4.8" fill="#33b8ec"/>
<rect x="220.2" y="342.3" width="6.0" height="12.1" fill="#33b8ec"/>
<rect x="248.3" y="348.3" width="4.8" height="6.0" fill="#33b8ec"/>
<rect x="274.4" y="342.3" width="6.0" height="6.0" fill="#33b8ec"/>
<rect x="246.3" y="366.4" width="9.2" height="6.0" fill="#33b8ec"/>
<rect x="268.4" y="366.4" width="11.2" height="6.0" fill="#33b8ec"/>
</g>
<rect x="-1.3" y="-1.3" width="664.6" height="536.9" fill="none" stroke="#a6a6a6" stroke-width="2.8"/>
</g>
<clipPath id="cc1"><rect x="0" y="0" width="662.0" height="531.9"/></clipPath>
<clipPath id="co1"><polygon points="117.7,-0.8 163.9,-0.8 165.9,17.3 176.0,21.3 210.1,25.3 214.1,39.4 224.2,45.4 254.3,47.4 264.4,65.5 272.4,70.7 306.5,73.5 310.6,87.6 348.7,95.6 354.8,109.7 364.8,117.7 401.0,121.7 405.0,133.8 413.0,141.8 445.2,144.6 449.2,157.9 457.2,166.7 495.4,169.9 499.4,184.0 509.4,191.2 541.6,194.1 547.6,208.1 585.8,217.0 591.8,230.2 601.8,240.3 613.9,242.3 619.9,256.3 630.0,264.4 662.1,265.2 662.1,310.6 646.0,312.6 640.0,328.6 634.0,356.8 621.9,362.8 613.9,380.9 611.9,396.9 597.8,405.0 589.8,425.1 577.7,433.1 564.9,437.5 562.9,453.2 556.0,473.3 542.8,486.9 538.4,504.6 533.9,531.5 522.7,515.9 515.9,504.6 489.4,491.4 486.9,473.3 469.3,471.3 433.5,473.3 411.0,455.6 388.9,448.8 386.5,433.1 375.3,428.7 343.9,424.3 341.9,401.8 321.8,397.3 292.9,392.9 294.5,376.9 300.5,364.8 288.5,360.8 296.5,340.7 296.5,322.6 284.5,320.6 212.1,320.6 196.1,318.6 155.9,320.6 155.9,296.5 107.7,296.5 107.7,284.5 79.8,278.8 79.8,255.9 32.9,254.7 26.1,249.1 26.1,231.4 1.6,230.2 1.6,201.3 19.3,188.8 30.5,173.2 44.2,164.3 50.6,155.5 51.8,141.8 47.4,128.6 50.6,121.7 64.3,115.3 73.1,108.5 71.9,77.1 75.1,70.7 90.8,63.9 97.6,50.6 95.2,41.4 93.2,28.1 102.0,19.3 115.3,10.4"/></clipPath>
<g transform="translate(963.0 1220.9)">
<rect width="662.0" height="531.9" fill="#000"/>
<g clip-path="url(#cc1)">
<polygon points="117.7,-0.8 163.9,-0.8 165.9,17.3 176.0,21.3 210.1,25.3 214.1,39.4 224.2,45.4 254.3,47.4 264.4,65.5 272.4,70.7 306.5,73.5 310.6,87.6 348.7,95.6 354.8,109.7 364.8,117.7 401.0,121.7 405.0,133.8 413.0,141.8 445.2,144.6 449.2,157.9 457.2,166.7 495.4,169.9 499.4,184.0 509.4,191.2 541.6,194.1 547.6,208.1 585.8,217.0 591.8,230.2 601.8,240.3 613.9,242.3 619.9,256.3 630.0,264.4 662.1,265.2 662.1,310.6 646.0,312.6 640.0,328.6 634.0,356.8 621.9,362.8 613.9,380.9 611.9,396.9 597.8,405.0 589.8,425.1 577.7,433.1 564.9,437.5 562.9,453.2 556.0,473.3 542.8,486.9 538.4,504.6 533.9,531.5 522.7,515.9 515.9,504.6 489.4,491.4 486.9,473.3 469.3,471.3 433.5,473.3 411.0,455.6 388.9,448.8 386.5,433.1 375.3,428.7 343.9,424.3 341.9,401.8 321.8,397.3 292.9,392.9 294.5,376.9 300.5,364.8 288.5,360.8 296.5,340.7 296.5,322.6 284.5,320.6 212.1,320.6 196.1,318.6 155.9,320.6 155.9,296.5 107.7,296.5 107.7,284.5 79.8,278.8 79.8,255.9 32.9,254.7 26.1,249.1 26.1,231.4 1.6,230.2 1.6,201.3 19.3,188.8 30.5,173.2 44.2,164.3 50.6,155.5 51.8,141.8 47.4,128.6 50.6,121.7 64.3,115.3 73.1,108.5 71.9,77.1 75.1,70.7 90.8,63.9 97.6,50.6 95.2,41.4 93.2,28.1 102.0,19.3 115.3,10.4" fill="url(#pWat)"/>
<g clip-path="url(#co1)">
<polygon points="-20.0,128.6 46.6,128.6 142.2,128.6 153.5,135.4 155.5,151.1 175.6,153.1 182.4,168.7 202.5,175.6 206.9,184.4 227.0,184.4 229.4,200.1 245.1,206.5 271.6,211.3 276.0,222.2 307.4,226.6 311.8,237.8 320.6,244.7 376.5,251.5 380.9,262.4 396.9,264.8 429.1,278.4 461.2,288.5 489.4,304.5 509.4,320.6 509.4,336.7 529.5,348.7 537.6,372.8 581.8,374.8 585.8,396.9 597.8,401.0 682.0,401.0 682.0,-20.0 -20.0,-20.0" fill="url(#pWet)"/>
<polygon points="-20.0,43.8 94.0,43.8 122.1,47.0 139.8,52.6 153.5,55.0 162.3,63.9 189.2,65.9 206.9,68.3 220.2,75.1 233.8,88.4 253.9,92.8 255.9,104.1 274.0,108.5 278.4,119.7 294.1,124.1 302.9,135.4 320.6,141.8 325.4,153.1 345.5,159.9 349.9,168.7 367.6,175.6 396.9,177.6 421.1,196.1 433.1,208.1 461.2,220.2 485.3,230.2 509.4,244.3 521.5,256.3 549.6,268.4 565.7,284.5 593.8,296.5 609.9,312.6 630.0,324.6 640.0,328.6 682.0,328.6 682.0,-20.0 -20.0,-20.0" fill="url(#pDry)"/>
</g>
<polygon points="117.7,-0.8 163.9,-0.8 165.9,17.3 176.0,21.3 210.1,25.3 214.1,39.4 224.2,45.4 254.3,47.4 264.4,65.5 272.4,70.7 306.5,73.5 310.6,87.6 348.7,95.6 354.8,109.7 364.8,117.7 401.0,121.7 405.0,133.8 413.0,141.8 445.2,144.6 449.2,157.9 457.2,166.7 495.4,169.9 499.4,184.0 509.4,191.2 541.6,194.1 547.6,208.1 585.8,217.0 591.8,230.2 601.8,240.3 613.9,242.3 619.9,256.3 630.0,264.4 662.1,265.2 662.1,310.6 646.0,312.6 640.0,328.6 634.0,356.8 621.9,362.8 613.9,380.9 611.9,396.9 597.8,405.0 589.8,425.1 577.7,433.1 564.9,437.5 562.9,453.2 556.0,473.3 542.8,486.9 538.4,504.6 533.9,531.5 522.7,515.9 515.9,504.6 489.4,491.4 486.9,473.3 469.3,471.3 433.5,473.3 411.0,455.6 388.9,448.8 386.5,433.1 375.3,428.7 343.9,424.3 341.9,401.8 321.8,397.3 292.9,392.9 294.5,376.9 300.5,364.8 288.5,360.8 296.5,340.7 296.5,322.6 284.5,320.6 212.1,320.6 196.1,318.6 155.9,320.6 155.9,296.5 107.7,296.5 107.7,284.5 79.8,278.8 79.8,255.9 32.9,254.7 26.1,249.1 26.1,231.4 1.6,230.2 1.6,201.3 19.3,188.8 30.5,173.2 44.2,164.3 50.6,155.5 51.8,141.8 47.4,128.6 50.6,121.7 64.3,115.3 73.1,108.5 71.9,77.1 75.1,70.7 90.8,63.9 97.6,50.6 95.2,41.4 93.2,28.1 102.0,19.3 115.3,10.4" fill="none" stroke="#33b8ec" stroke-width="2" stroke-opacity="0.85"/>
<rect x="167.9" y="298.5" width="18.1" height="12.1" fill="#000"/>
<rect x="192.0" y="298.5" width="10.0" height="12.1" fill="#000"/>
<rect x="310.6" y="364.8" width="10.0" height="16.1" fill="#000"/>
<rect x="274.4" y="340.7" width="12.1" height="6.0" fill="#33b8ec"/>
<rect x="248.3" y="366.8" width="32.1" height="4.0" fill="#33b8ec"/>
</g>
<rect x="-1.3" y="-1.3" width="664.6" height="534.5" fill="none" stroke="#a6a6a6" stroke-width="2.8"/>
</g>
<clipPath id="cc2"><rect x="0" y="0" width="662.0" height="532.1"/></clipPath>
<clipPath id="co2"><polygon points="117.7,-0.8 163.9,-0.8 165.9,17.3 176.0,21.3 210.1,25.3 214.1,39.4 224.2,45.4 254.3,47.4 264.4,65.5 272.4,70.7 306.5,73.5 310.6,87.6 348.7,95.6 354.8,109.7 364.8,117.7 401.0,121.7 405.0,133.8 413.0,141.8 445.2,144.6 449.2,157.9 457.2,166.7 495.4,169.9 499.4,184.0 509.4,191.2 541.6,194.1 547.6,208.1 585.8,217.0 591.8,230.2 601.8,240.3 613.9,242.3 619.9,256.3 630.0,264.4 662.1,265.2 662.1,310.6 646.0,312.6 640.0,328.6 634.0,356.8 621.9,362.8 613.9,380.9 611.9,396.9 597.8,405.0 589.8,425.1 577.7,433.1 564.9,437.5 562.9,453.2 556.0,473.3 542.8,486.9 538.4,504.6 533.9,531.5 522.7,515.9 515.9,504.6 489.4,491.4 486.9,473.3 469.3,471.3 433.5,473.3 411.0,455.6 388.9,448.8 386.5,433.1 375.3,428.7 343.9,424.3 341.9,401.8 321.8,397.3 292.9,392.9 294.5,376.9 300.5,364.8 288.5,360.8 296.5,340.7 296.5,322.6 284.5,320.6 212.1,320.6 196.1,318.6 155.9,320.6 155.9,296.5 107.7,296.5 107.7,284.5 79.8,278.8 79.8,255.9 32.9,254.7 26.1,249.1 26.1,231.4 1.6,230.2 1.6,201.3 19.3,188.8 30.5,173.2 44.2,164.3 50.6,155.5 51.8,141.8 47.4,128.6 50.6,121.7 64.3,115.3 73.1,108.5 71.9,77.1 75.1,70.7 90.8,63.9 97.6,50.6 95.2,41.4 93.2,28.1 102.0,19.3 115.3,10.4"/></clipPath>
<g transform="translate(963.0 1761.7)">
<rect width="662.0" height="532.1" fill="#000"/>
<g clip-path="url(#cc2)">
<polygon points="117.7,-0.8 163.9,-0.8 165.9,17.3 176.0,21.3 210.1,25.3 214.1,39.4 224.2,45.4 254.3,47.4 264.4,65.5 272.4,70.7 306.5,73.5 310.6,87.6 348.7,95.6 354.8,109.7 364.8,117.7 401.0,121.7 405.0,133.8 413.0,141.8 445.2,144.6 449.2,157.9 457.2,166.7 495.4,169.9 499.4,184.0 509.4,191.2 541.6,194.1 547.6,208.1 585.8,217.0 591.8,230.2 601.8,240.3 613.9,242.3 619.9,256.3 630.0,264.4 662.1,265.2 662.1,310.6 646.0,312.6 640.0,328.6 634.0,356.8 621.9,362.8 613.9,380.9 611.9,396.9 597.8,405.0 589.8,425.1 577.7,433.1 564.9,437.5 562.9,453.2 556.0,473.3 542.8,486.9 538.4,504.6 533.9,531.5 522.7,515.9 515.9,504.6 489.4,491.4 486.9,473.3 469.3,471.3 433.5,473.3 411.0,455.6 388.9,448.8 386.5,433.1 375.3,428.7 343.9,424.3 341.9,401.8 321.8,397.3 292.9,392.9 294.5,376.9 300.5,364.8 288.5,360.8 296.5,340.7 296.5,322.6 284.5,320.6 212.1,320.6 196.1,318.6 155.9,320.6 155.9,296.5 107.7,296.5 107.7,284.5 79.8,278.8 79.8,255.9 32.9,254.7 26.1,249.1 26.1,231.4 1.6,230.2 1.6,201.3 19.3,188.8 30.5,173.2 44.2,164.3 50.6,155.5 51.8,141.8 47.4,128.6 50.6,121.7 64.3,115.3 73.1,108.5 71.9,77.1 75.1,70.7 90.8,63.9 97.6,50.6 95.2,41.4 93.2,28.1 102.0,19.3 115.3,10.4" fill="url(#pWat)"/>
<g clip-path="url(#co2)">
<polygon points="-20.0,133.4 46.6,133.4 59.5,133.0 147.9,135.0 151.9,151.1 176.0,159.1 180.0,175.2 212.1,183.2 220.2,203.3 268.4,215.3 272.4,227.4 308.6,235.4 316.6,251.5 380.9,257.5 388.9,271.6 453.2,287.7 469.3,303.7 485.3,311.8 489.4,327.8 509.4,335.9 513.5,351.9 533.5,360.0 537.6,376.1 581.8,380.1 585.8,404.2 598.6,401.8 682.0,401.8 682.0,-20.0 -20.0,-20.0" fill="url(#pWet)"/>
<polygon points="-20.0,56.2 92.4,56.2 101.6,54.6 107.7,46.6 155.9,58.7 159.9,70.7 220.2,76.7 228.2,94.8 248.3,98.8 268.4,106.9 274.4,127.0 292.5,135.0 300.5,151.1 332.7,159.1 340.7,175.2 401.0,183.2 409.0,203.3 453.2,209.3 461.2,227.4 497.4,233.4 505.4,251.5 529.5,259.5 549.6,275.6 569.7,291.7 589.8,311.8 605.9,327.8 630.0,335.9 641.2,334.3 682.0,334.3 682.0,-20.0 -20.0,-20.0" fill="url(#pDry)"/>
<polyline points="59.5,133.0 147.9,135.0 151.9,151.1 176.0,159.1 180.0,175.2 212.1,183.2 220.2,203.3 268.4,215.3 272.4,227.4 308.6,235.4 316.6,251.5 380.9,257.5 388.9,271.6 453.2,287.7 469.3,303.7 485.3,311.8 489.4,327.8 509.4,335.9 513.5,351.9 533.5,360.0 537.6,376.1 581.8,380.1 585.8,404.2 581.8,424.3" fill="none" stroke="url(#pMag)" stroke-width="14.5" stroke-linejoin="miter"/>
<polyline points="101.6,54.6 107.7,46.6 155.9,58.7 159.9,70.7 220.2,76.7 228.2,94.8 248.3,98.8 268.4,106.9 274.4,127.0 292.5,135.0 300.5,151.1 332.7,159.1 340.7,175.2 401.0,183.2 409.0,203.3 453.2,209.3 461.2,227.4 497.4,233.4 505.4,251.5 529.5,259.5 549.6,275.6 569.7,291.7 589.8,311.8 605.9,327.8 630.0,335.9" fill="none" stroke="url(#pRed)" stroke-width="14.5" stroke-linejoin="miter"/>
<rect x="551.6" y="388.1" width="16.1" height="16.1" fill="none" stroke="#c31ccb" stroke-width="3.5"/>
<rect x="551.6" y="420.2" width="16.1" height="14.1" fill="none" stroke="#c31ccb" stroke-width="3.5"/>
<rect x="123.7" y="-0.8" width="36.2" height="4.0" fill="#ff1a10"/>
<rect x="654.9" y="273.6" width="7.2" height="35.0" fill="#ff1a10"/>
<rect x="0.0" y="207.3" width="4.4" height="23.3" fill="#c31ccb"/>
<rect x="77.5" y="102.9" width="4.4" height="16.9" fill="#c31ccb"/>
</g>
<polygon points="117.7,-0.8 163.9,-0.8 165.9,17.3 176.0,21.3 210.1,25.3 214.1,39.4 224.2,45.4 254.3,47.4 264.4,65.5 272.4,70.7 306.5,73.5 310.6,87.6 348.7,95.6 354.8,109.7 364.8,117.7 401.0,121.7 405.0,133.8 413.0,141.8 445.2,144.6 449.2,157.9 457.2,166.7 495.4,169.9 499.4,184.0 509.4,191.2 541.6,194.1 547.6,208.1 585.8,217.0 591.8,230.2 601.8,240.3 613.9,242.3 619.9,256.3 630.0,264.4 662.1,265.2 662.1,310.6 646.0,312.6 640.0,328.6 634.0,356.8 621.9,362.8 613.9,380.9 611.9,396.9 597.8,405.0 589.8,425.1 577.7,433.1 564.9,437.5 562.9,453.2 556.0,473.3 542.8,486.9 538.4,504.6 533.9,531.5 522.7,515.9 515.9,504.6 489.4,491.4 486.9,473.3 469.3,471.3 433.5,473.3 411.0,455.6 388.9,448.8 386.5,433.1 375.3,428.7 343.9,424.3 341.9,401.8 321.8,397.3 292.9,392.9 294.5,376.9 300.5,364.8 288.5,360.8 296.5,340.7 296.5,322.6 284.5,320.6 212.1,320.6 196.1,318.6 155.9,320.6 155.9,296.5 107.7,296.5 107.7,284.5 79.8,278.8 79.8,255.9 32.9,254.7 26.1,249.1 26.1,231.4 1.6,230.2 1.6,201.3 19.3,188.8 30.5,173.2 44.2,164.3 50.6,155.5 51.8,141.8 47.4,128.6 50.6,121.7 64.3,115.3 73.1,108.5 71.9,77.1 75.1,70.7 90.8,63.9 97.6,50.6 95.2,41.4 93.2,28.1 102.0,19.3 115.3,10.4" fill="none" stroke="#33b8ec" stroke-width="2" stroke-opacity="0.85"/>
<rect x="167.9" y="298.5" width="18.1" height="12.1" fill="#000"/>
<rect x="192.0" y="298.5" width="10.0" height="12.1" fill="#000"/>
<rect x="310.6" y="364.8" width="10.0" height="16.1" fill="#000"/>
<rect x="274.4" y="340.7" width="12.1" height="6.0" fill="#33b8ec"/>
<rect x="248.3" y="366.8" width="32.1" height="4.0" fill="#33b8ec"/>
</g>
<rect x="-1.3" y="-1.3" width="664.6" height="534.7" fill="none" stroke="#a6a6a6" stroke-width="2.8"/>
</g>
<g fill="#fff" font-weight="bold">
<text x="978.5" y="740" font-size="62">C</text>
<text x="1391" y="748.4" font-size="42">SAM</text>
<text x="1609.5" y="1181.4" font-size="61" text-anchor="end">1</text>
<text x="1299.5" y="1288.4" font-size="42">SAM</text>
<text x="1405" y="1295.2" font-size="29.7">SMOOTHED</text>
<text x="1606" y="1736.4" font-size="61" text-anchor="end">2</text>
<text x="1305.5" y="1829.2" font-size="43">Sobel edges</text>
<text x="1607" y="2280.4" font-size="61" text-anchor="end">3</text>
</g>
<rect x="983" y="2168" width="332.6" height="106.3" rx="8" fill="#d2d2d2" fill-opacity="0.95"/>
<circle cx="1030.4" cy="2196" r="9" fill="#ff0000"/>
<circle cx="1030.4" cy="2246.2" r="9" fill="#bf00bf"/>
<text x="1071.5" y="2206" font-size="39.9" fill="#161616">Upper edge</text>
<text x="1071.5" y="2256.3" font-size="39.9" fill="#161616">Lower edge</text>
<rect x="1656.5" y="679.0" width="79.2" height="403.0" fill="#bdb76b"/>
<rect x="1656.5" y="1082.0" width="79.2" height="403.0" fill="#7fffd4"/>
<rect x="1656.5" y="1485.0" width="79.2" height="405.0" fill="#33b8ec"/>
<rect x="1656.5" y="1890.0" width="79.2" height="404.0" fill="#000"/>
<rect x="1656.5" y="679.0" width="79.2" height="1615.0" fill="none" stroke="#a8a8a8" stroke-width="2.4"/>
<line x1="1735.7" x2="1745.7" y1="882" y2="882" stroke="#8a8a8a" stroke-width="1.8"/>
<text x="1752.5" y="900.4" font-size="48.8" fill="#808080">Dry sand</text>
<line x1="1735.7" x2="1745.7" y1="1286.5" y2="1286.5" stroke="#8a8a8a" stroke-width="1.8"/>
<text x="1752.5" y="1303.5" font-size="48.8" fill="#808080">Wet sand</text>
<line x1="1735.7" x2="1745.7" y1="1688" y2="1688" stroke="#8a8a8a" stroke-width="1.8"/>
<text x="1752.5" y="1706.4" font-size="48.8" fill="#808080">Water</text>
<line x1="1735.7" x2="1745.7" y1="2092.5" y2="2092.5" stroke="#8a8a8a" stroke-width="1.8"/>
<text x="1752.5" y="2109.6" font-size="48.8" fill="#808080">Black</text>
</svg>
</body></html>
